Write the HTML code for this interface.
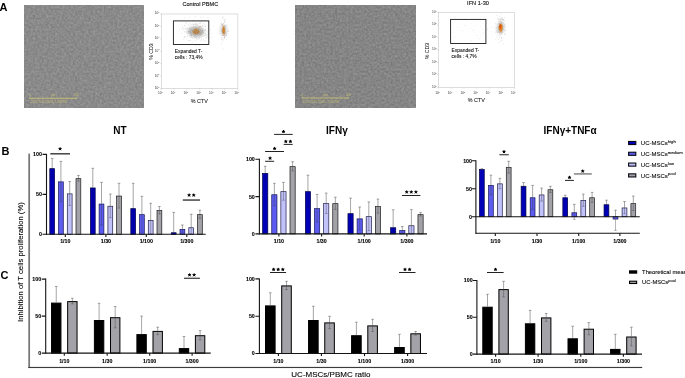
<!DOCTYPE html><html><head><meta charset="utf-8"><title>Figure</title><style>html,body{margin:0;padding:0;background:#fff;}body{width:685px;height:378px;overflow:hidden;position:relative;font-family:"Liberation Sans",sans-serif;}</style></head><body><svg width="685" height="378" viewBox="0 0 685 378" style="position:absolute;left:0;top:0;will-change:transform"><defs><filter id="nz1" x="0" y="0" width="1" height="1" color-interpolation-filters="sRGB"><feTurbulence type="fractalNoise" baseFrequency="0.45" numOctaves="3" seed="3"/><feColorMatrix type="matrix" values="0.17 0 0 0 0.4564  0.17 0 0 0 0.4564  0.17 0 0 0 0.4564  0 0 0 0 1"/></filter><filter id="nz2" x="0" y="0" width="1" height="1" color-interpolation-filters="sRGB"><feTurbulence type="fractalNoise" baseFrequency="0.45" numOctaves="3" seed="11"/><feColorMatrix type="matrix" values="0.17 0 0 0 0.4368  0.17 0 0 0 0.4368  0.17 0 0 0 0.4368  0 0 0 0 1"/></filter><filter id="b1" x="-50%" y="-50%" width="200%" height="200%"><feGaussianBlur stdDeviation="1.6"/></filter><filter id="b2" x="-50%" y="-50%" width="200%" height="200%"><feGaussianBlur stdDeviation="0.7"/></filter></defs><rect width="685" height="378" fill="#fff"/><rect x="24" y="5" width="119.8" height="102.6" fill="#8a8a8a" filter="url(#nz1)"/><line x1="29.3" y1="98.3" x2="76.9" y2="98.3" stroke="#c9c173" stroke-width="0.9"/><line x1="29.6" y1="97.1" x2="29.6" y2="98.3" stroke="#c9c173" stroke-width="0.6"/><line x1="76.60000000000001" y1="97.1" x2="76.60000000000001" y2="98.3" stroke="#c9c173" stroke-width="0.6"/><g font-family="Liberation Sans, sans-serif" font-size="3" fill="#c9c173" opacity="0.9"><text x="29.0" y="96.0">0</text><text x="51.1" y="96.0">µm</text><text x="73.9" y="96.0">100</text><text x="30.3" y="102.89999999999999" font-size="2.6" textLength="37" lengthAdjust="spacingAndGlyphs">23.01.2019 15h05, 1,000780&#8242;</text></g><rect x="295.5" y="5" width="120.1" height="102.5" fill="#858585" filter="url(#nz2)"/><line x1="301.7" y1="98.0" x2="348.9" y2="98.0" stroke="#c9c173" stroke-width="0.9"/><line x1="302.0" y1="96.8" x2="302.0" y2="98.0" stroke="#c9c173" stroke-width="0.6"/><line x1="348.59999999999997" y1="96.8" x2="348.59999999999997" y2="98.0" stroke="#c9c173" stroke-width="0.6"/><g font-family="Liberation Sans, sans-serif" font-size="3" fill="#c9c173" opacity="0.9"><text x="301.4" y="95.7">0</text><text x="323.29999999999995" y="95.7">µm</text><text x="345.9" y="95.7">100</text><text x="302.7" y="102.6" font-size="2.6" textLength="37" lengthAdjust="spacingAndGlyphs">23.01.2019 15h05, 1,000780&#8242;</text></g><text x="-0.4" y="11.2" font-family="Liberation Sans, sans-serif" font-size="11" font-weight="700" fill="#000">A</text><rect x="161.5" y="14" width="76.3" height="74.6" fill="#fff" stroke="#cfcfcf" stroke-width="0.7"/><g stroke="#bbb" stroke-width="0.5"><line x1="160.3" y1="88.6" x2="161.5" y2="88.6"/><line x1="161.5" y1="88.6" x2="161.5" y2="89.8"/><line x1="160.3" y1="76.2" x2="161.5" y2="76.2"/><line x1="174.2" y1="88.6" x2="174.2" y2="89.8"/><line x1="160.3" y1="63.7" x2="161.5" y2="63.7"/><line x1="186.9" y1="88.6" x2="186.9" y2="89.8"/><line x1="160.3" y1="51.3" x2="161.5" y2="51.3"/><line x1="199.7" y1="88.6" x2="199.7" y2="89.8"/><line x1="160.3" y1="38.9" x2="161.5" y2="38.9"/><line x1="212.4" y1="88.6" x2="212.4" y2="89.8"/><line x1="160.3" y1="26.4" x2="161.5" y2="26.4"/><line x1="225.1" y1="88.6" x2="225.1" y2="89.8"/><line x1="160.3" y1="14.0" x2="161.5" y2="14.0"/><line x1="237.8" y1="88.6" x2="237.8" y2="89.8"/></g><g font-family="Liberation Sans, sans-serif" font-size="3.2" fill="#333"><text x="159.4" y="88.9" text-anchor="end">10<tspan dy="-1.2" font-size="2">0</tspan></text><text x="162.7" y="94.0" text-anchor="end">10<tspan dy="-1.2" font-size="2">0</tspan></text><text x="159.4" y="76.5" text-anchor="end">10<tspan dy="-1.2" font-size="2">1</tspan></text><text x="175.4" y="94.0" text-anchor="end">10<tspan dy="-1.2" font-size="2">1</tspan></text><text x="159.4" y="64.0" text-anchor="end">10<tspan dy="-1.2" font-size="2">2</tspan></text><text x="188.1" y="94.0" text-anchor="end">10<tspan dy="-1.2" font-size="2">2</tspan></text><text x="159.4" y="51.6" text-anchor="end">10<tspan dy="-1.2" font-size="2">3</tspan></text><text x="200.8" y="94.0" text-anchor="end">10<tspan dy="-1.2" font-size="2">3</tspan></text><text x="159.4" y="39.2" text-anchor="end">10<tspan dy="-1.2" font-size="2">4</tspan></text><text x="213.6" y="94.0" text-anchor="end">10<tspan dy="-1.2" font-size="2">4</tspan></text><text x="159.4" y="26.7" text-anchor="end">10<tspan dy="-1.2" font-size="2">5</tspan></text><text x="226.3" y="94.0" text-anchor="end">10<tspan dy="-1.2" font-size="2">5</tspan></text><text x="159.4" y="14.3" text-anchor="end">10<tspan dy="-1.2" font-size="2">6</tspan></text><text x="239.0" y="94.0" text-anchor="end">10<tspan dy="-1.2" font-size="2">6</tspan></text></g><ellipse cx="196.0" cy="31.5" rx="8.5" ry="5.0" fill="#8f8f8f" opacity="0.62" filter="url(#b1)"/><ellipse cx="196.0" cy="31.5" rx="3.1" ry="2.8" fill="#b98848" opacity="0.82" filter="url(#b2)"/><g opacity="0.75"><rect x="194.4" y="34.3" width="0.5" height="0.5" fill="#8a8a8a"/><rect x="194.6" y="29.8" width="0.5" height="0.5" fill="#8a8a8a"/><rect x="190.2" y="30.3" width="0.5" height="0.5" fill="#8a8a8a"/><rect x="202.9" y="33.8" width="0.5" height="0.5" fill="#8a8a8a"/><rect x="202.5" y="32.9" width="0.5" height="0.5" fill="#8a8a8a"/><rect x="198.5" y="32.5" width="0.5" height="0.5" fill="#8a8a8a"/><rect x="185.6" y="36.2" width="0.5" height="0.5" fill="#8a8a8a"/><rect x="199.2" y="34.3" width="0.5" height="0.5" fill="#8a8a8a"/><rect x="185.4" y="21.9" width="0.5" height="0.5" fill="#8a8a8a"/><rect x="190.4" y="28.9" width="0.5" height="0.5" fill="#8a8a8a"/><rect x="197.9" y="31.2" width="0.5" height="0.5" fill="#8a8a8a"/><rect x="199.3" y="28.0" width="0.5" height="0.5" fill="#8a8a8a"/><rect x="197.9" y="33.7" width="0.5" height="0.5" fill="#8a8a8a"/><rect x="191.9" y="41.0" width="0.5" height="0.5" fill="#8a8a8a"/><rect x="199.5" y="38.1" width="0.5" height="0.5" fill="#8a8a8a"/><rect x="192.1" y="27.4" width="0.5" height="0.5" fill="#8a8a8a"/><rect x="193.9" y="30.9" width="0.5" height="0.5" fill="#8a8a8a"/><rect x="199.9" y="32.9" width="0.5" height="0.5" fill="#8a8a8a"/><rect x="193.2" y="26.2" width="0.5" height="0.5" fill="#8a8a8a"/><rect x="192.8" y="38.2" width="0.5" height="0.5" fill="#8a8a8a"/><rect x="191.0" y="32.9" width="0.5" height="0.5" fill="#8a8a8a"/><rect x="198.7" y="23.3" width="0.5" height="0.5" fill="#8a8a8a"/><rect x="196.3" y="38.7" width="0.5" height="0.5" fill="#8a8a8a"/><rect x="183.4" y="29.7" width="0.5" height="0.5" fill="#8a8a8a"/><rect x="195.3" y="27.0" width="0.5" height="0.5" fill="#8a8a8a"/><rect x="199.1" y="31.2" width="0.5" height="0.5" fill="#8a8a8a"/><rect x="186.9" y="36.1" width="0.5" height="0.5" fill="#8a8a8a"/><rect x="200.2" y="36.7" width="0.5" height="0.5" fill="#8a8a8a"/><rect x="205.0" y="33.5" width="0.5" height="0.5" fill="#8a8a8a"/><rect x="196.7" y="24.3" width="0.5" height="0.5" fill="#8a8a8a"/><rect x="199.8" y="28.1" width="0.5" height="0.5" fill="#8a8a8a"/><rect x="193.2" y="24.5" width="0.5" height="0.5" fill="#8a8a8a"/><rect x="190.0" y="28.6" width="0.5" height="0.5" fill="#8a8a8a"/><rect x="204.0" y="20.3" width="0.5" height="0.5" fill="#8a8a8a"/><rect x="186.9" y="32.8" width="0.5" height="0.5" fill="#8a8a8a"/><rect x="205.0" y="34.7" width="0.5" height="0.5" fill="#8a8a8a"/><rect x="184.1" y="17.6" width="0.5" height="0.5" fill="#8a8a8a"/><rect x="198.2" y="27.4" width="0.5" height="0.5" fill="#8a8a8a"/><rect x="189.0" y="36.9" width="0.5" height="0.5" fill="#8a8a8a"/><rect x="202.9" y="32.4" width="0.5" height="0.5" fill="#8a8a8a"/><rect x="197.5" y="33.9" width="0.5" height="0.5" fill="#8a8a8a"/><rect x="205.9" y="34.9" width="0.5" height="0.5" fill="#8a8a8a"/><rect x="199.2" y="34.5" width="0.5" height="0.5" fill="#8a8a8a"/><rect x="186.2" y="38.6" width="0.5" height="0.5" fill="#8a8a8a"/><rect x="202.0" y="34.4" width="0.5" height="0.5" fill="#8a8a8a"/><rect x="183.7" y="28.0" width="0.5" height="0.5" fill="#8a8a8a"/><rect x="201.3" y="21.5" width="0.5" height="0.5" fill="#8a8a8a"/><rect x="194.9" y="37.1" width="0.5" height="0.5" fill="#8a8a8a"/><rect x="187.8" y="40.4" width="0.5" height="0.5" fill="#8a8a8a"/><rect x="199.4" y="30.7" width="0.5" height="0.5" fill="#8a8a8a"/><rect x="198.0" y="35.1" width="0.5" height="0.5" fill="#8a8a8a"/><rect x="196.8" y="37.8" width="0.5" height="0.5" fill="#8a8a8a"/><rect x="191.9" y="29.2" width="0.5" height="0.5" fill="#8a8a8a"/><rect x="202.5" y="31.6" width="0.5" height="0.5" fill="#8a8a8a"/><rect x="190.5" y="36.7" width="0.5" height="0.5" fill="#8a8a8a"/><rect x="205.1" y="29.0" width="0.5" height="0.5" fill="#8a8a8a"/><rect x="187.4" y="30.8" width="0.5" height="0.5" fill="#8a8a8a"/><rect x="195.1" y="29.9" width="0.5" height="0.5" fill="#8a8a8a"/><rect x="204.8" y="25.8" width="0.5" height="0.5" fill="#8a8a8a"/><rect x="203.9" y="24.5" width="0.5" height="0.5" fill="#8a8a8a"/><rect x="191.1" y="35.0" width="0.5" height="0.5" fill="#8a8a8a"/><rect x="203.0" y="36.2" width="0.5" height="0.5" fill="#8a8a8a"/><rect x="198.2" y="32.3" width="0.5" height="0.5" fill="#8a8a8a"/><rect x="197.0" y="34.7" width="0.5" height="0.5" fill="#8a8a8a"/><rect x="194.9" y="33.0" width="0.5" height="0.5" fill="#8a8a8a"/><rect x="199.6" y="31.5" width="0.5" height="0.5" fill="#8a8a8a"/><rect x="200.8" y="34.6" width="0.5" height="0.5" fill="#8a8a8a"/><rect x="208.5" y="33.3" width="0.5" height="0.5" fill="#8a8a8a"/><rect x="193.3" y="29.4" width="0.5" height="0.5" fill="#8a8a8a"/><rect x="195.9" y="36.6" width="0.5" height="0.5" fill="#8a8a8a"/><rect x="193.9" y="33.6" width="0.5" height="0.5" fill="#8a8a8a"/><rect x="207.5" y="17.3" width="0.5" height="0.5" fill="#8a8a8a"/><rect x="189.0" y="32.8" width="0.5" height="0.5" fill="#8a8a8a"/><rect x="198.5" y="32.8" width="0.5" height="0.5" fill="#8a8a8a"/><rect x="193.3" y="35.1" width="0.5" height="0.5" fill="#8a8a8a"/><rect x="197.8" y="28.6" width="0.5" height="0.5" fill="#8a8a8a"/><rect x="211.2" y="33.5" width="0.5" height="0.5" fill="#8a8a8a"/><rect x="192.5" y="31.0" width="0.5" height="0.5" fill="#8a8a8a"/><rect x="194.6" y="31.2" width="0.5" height="0.5" fill="#8a8a8a"/><rect x="179.0" y="28.8" width="0.5" height="0.5" fill="#8a8a8a"/><rect x="202.3" y="25.0" width="0.5" height="0.5" fill="#8a8a8a"/><rect x="195.6" y="36.8" width="0.5" height="0.5" fill="#8a8a8a"/><rect x="201.3" y="39.7" width="0.5" height="0.5" fill="#8a8a8a"/><rect x="185.4" y="29.5" width="0.5" height="0.5" fill="#8a8a8a"/><rect x="193.9" y="34.9" width="0.5" height="0.5" fill="#8a8a8a"/><rect x="202.8" y="16.7" width="0.5" height="0.5" fill="#8a8a8a"/><rect x="202.8" y="23.5" width="0.5" height="0.5" fill="#8a8a8a"/><rect x="200.3" y="23.3" width="0.5" height="0.5" fill="#8a8a8a"/><rect x="197.1" y="38.1" width="0.5" height="0.5" fill="#8a8a8a"/><rect x="195.1" y="32.6" width="0.5" height="0.5" fill="#8a8a8a"/><rect x="201.0" y="32.3" width="0.5" height="0.5" fill="#8a8a8a"/><rect x="195.4" y="40.0" width="0.5" height="0.5" fill="#8a8a8a"/><rect x="202.5" y="29.9" width="0.5" height="0.5" fill="#8a8a8a"/><rect x="213.1" y="25.2" width="0.5" height="0.5" fill="#8a8a8a"/><rect x="201.7" y="30.0" width="0.5" height="0.5" fill="#8a8a8a"/><rect x="196.8" y="35.4" width="0.5" height="0.5" fill="#8a8a8a"/><rect x="197.4" y="35.0" width="0.5" height="0.5" fill="#8a8a8a"/><rect x="186.5" y="23.2" width="0.5" height="0.5" fill="#8a8a8a"/><rect x="199.8" y="26.2" width="0.5" height="0.5" fill="#8a8a8a"/><rect x="189.6" y="23.4" width="0.5" height="0.5" fill="#8a8a8a"/><rect x="203.9" y="35.6" width="0.5" height="0.5" fill="#8a8a8a"/><rect x="205.2" y="26.3" width="0.5" height="0.5" fill="#8a8a8a"/><rect x="196.0" y="25.2" width="0.5" height="0.5" fill="#8a8a8a"/><rect x="200.8" y="40.3" width="0.5" height="0.5" fill="#8a8a8a"/><rect x="190.4" y="40.1" width="0.5" height="0.5" fill="#8a8a8a"/><rect x="202.2" y="30.5" width="0.5" height="0.5" fill="#8a8a8a"/><rect x="183.7" y="39.3" width="0.5" height="0.5" fill="#8a8a8a"/><rect x="195.4" y="28.2" width="0.5" height="0.5" fill="#8a8a8a"/><rect x="198.5" y="33.8" width="0.5" height="0.5" fill="#8a8a8a"/><rect x="205.3" y="25.9" width="0.5" height="0.5" fill="#8a8a8a"/><rect x="203.1" y="39.7" width="0.5" height="0.5" fill="#8a8a8a"/><rect x="205.1" y="30.5" width="0.5" height="0.5" fill="#8a8a8a"/><rect x="191.4" y="37.1" width="0.5" height="0.5" fill="#8a8a8a"/><rect x="196.7" y="32.2" width="0.5" height="0.5" fill="#8a8a8a"/><rect x="204.9" y="30.0" width="0.5" height="0.5" fill="#8a8a8a"/><rect x="181.7" y="29.4" width="0.5" height="0.5" fill="#8a8a8a"/><rect x="184.4" y="36.0" width="0.5" height="0.5" fill="#8a8a8a"/><rect x="198.0" y="28.1" width="0.5" height="0.5" fill="#8a8a8a"/><rect x="195.9" y="36.1" width="0.5" height="0.5" fill="#8a8a8a"/><rect x="196.5" y="38.8" width="0.5" height="0.5" fill="#8a8a8a"/><rect x="195.6" y="37.2" width="0.5" height="0.5" fill="#8a8a8a"/><rect x="205.3" y="40.4" width="0.5" height="0.5" fill="#8a8a8a"/><rect x="191.8" y="36.4" width="0.5" height="0.5" fill="#8a8a8a"/><rect x="184.3" y="25.5" width="0.5" height="0.5" fill="#8a8a8a"/><rect x="183.8" y="37.4" width="0.5" height="0.5" fill="#8a8a8a"/><rect x="188.3" y="31.4" width="0.5" height="0.5" fill="#8a8a8a"/><rect x="194.8" y="31.3" width="0.5" height="0.5" fill="#8a8a8a"/><rect x="192.3" y="32.8" width="0.5" height="0.5" fill="#8a8a8a"/><rect x="207.2" y="31.7" width="0.5" height="0.5" fill="#8a8a8a"/><rect x="199.3" y="37.0" width="0.5" height="0.5" fill="#8a8a8a"/><rect x="194.8" y="24.5" width="0.5" height="0.5" fill="#8a8a8a"/><rect x="192.5" y="37.4" width="0.5" height="0.5" fill="#8a8a8a"/><rect x="185.7" y="28.2" width="0.5" height="0.5" fill="#8a8a8a"/><rect x="202.3" y="35.9" width="0.5" height="0.5" fill="#8a8a8a"/><rect x="196.0" y="35.9" width="0.5" height="0.5" fill="#8a8a8a"/><rect x="197.0" y="25.0" width="0.5" height="0.5" fill="#8a8a8a"/><rect x="186.2" y="28.0" width="0.5" height="0.5" fill="#8a8a8a"/><rect x="201.8" y="28.4" width="0.5" height="0.5" fill="#8a8a8a"/><rect x="190.4" y="27.2" width="0.5" height="0.5" fill="#8a8a8a"/><rect x="186.4" y="30.9" width="0.5" height="0.5" fill="#8a8a8a"/><rect x="188.6" y="33.5" width="0.5" height="0.5" fill="#8a8a8a"/><rect x="181.3" y="33.3" width="0.5" height="0.5" fill="#8a8a8a"/><rect x="192.0" y="20.8" width="0.5" height="0.5" fill="#8a8a8a"/><rect x="200.5" y="30.0" width="0.5" height="0.5" fill="#8a8a8a"/><rect x="182.1" y="26.7" width="0.5" height="0.5" fill="#8a8a8a"/><rect x="197.8" y="29.0" width="0.5" height="0.5" fill="#8a8a8a"/><rect x="200.9" y="35.6" width="0.5" height="0.5" fill="#8a8a8a"/><rect x="200.2" y="33.3" width="0.5" height="0.5" fill="#8a8a8a"/><rect x="204.3" y="35.1" width="0.5" height="0.5" fill="#8a8a8a"/><rect x="198.8" y="20.0" width="0.5" height="0.5" fill="#8a8a8a"/><rect x="201.6" y="38.7" width="0.5" height="0.5" fill="#8a8a8a"/><rect x="194.1" y="28.9" width="0.5" height="0.5" fill="#8a8a8a"/><rect x="208.1" y="21.8" width="0.5" height="0.5" fill="#8a8a8a"/><rect x="198.9" y="44.9" width="0.5" height="0.5" fill="#8a8a8a"/><rect x="190.2" y="35.3" width="0.5" height="0.5" fill="#8a8a8a"/><rect x="207.8" y="30.8" width="0.5" height="0.5" fill="#8a8a8a"/><rect x="199.5" y="36.5" width="0.5" height="0.5" fill="#8a8a8a"/><rect x="190.3" y="31.0" width="0.5" height="0.5" fill="#8a8a8a"/><rect x="197.8" y="36.1" width="0.5" height="0.5" fill="#8a8a8a"/><rect x="195.8" y="30.4" width="0.5" height="0.5" fill="#8a8a8a"/><rect x="189.7" y="29.5" width="0.5" height="0.5" fill="#8a8a8a"/><rect x="201.6" y="32.1" width="0.5" height="0.5" fill="#8a8a8a"/><rect x="190.7" y="26.9" width="0.5" height="0.5" fill="#8a8a8a"/><rect x="212.6" y="37.8" width="0.5" height="0.5" fill="#8a8a8a"/><rect x="200.0" y="17.2" width="0.5" height="0.5" fill="#8a8a8a"/><rect x="199.9" y="34.2" width="0.5" height="0.5" fill="#8a8a8a"/><rect x="206.5" y="33.9" width="0.5" height="0.5" fill="#8a8a8a"/><rect x="195.6" y="34.4" width="0.5" height="0.5" fill="#8a8a8a"/><rect x="183.9" y="37.2" width="0.5" height="0.5" fill="#8a8a8a"/><rect x="198.0" y="27.6" width="0.5" height="0.5" fill="#8a8a8a"/><rect x="204.3" y="41.5" width="0.5" height="0.5" fill="#8a8a8a"/><rect x="187.2" y="27.8" width="0.5" height="0.5" fill="#8a8a8a"/><rect x="197.8" y="32.5" width="0.5" height="0.5" fill="#8a8a8a"/><rect x="193.5" y="26.1" width="0.5" height="0.5" fill="#8a8a8a"/><rect x="209.2" y="37.2" width="0.5" height="0.5" fill="#8a8a8a"/><rect x="188.5" y="24.1" width="0.5" height="0.5" fill="#8a8a8a"/><rect x="206.6" y="37.0" width="0.5" height="0.5" fill="#8a8a8a"/><rect x="207.4" y="36.0" width="0.5" height="0.5" fill="#8a8a8a"/><rect x="190.6" y="32.9" width="0.5" height="0.5" fill="#8a8a8a"/><rect x="182.5" y="27.4" width="0.5" height="0.5" fill="#8a8a8a"/><rect x="195.6" y="34.4" width="0.5" height="0.5" fill="#8a8a8a"/><rect x="191.5" y="30.8" width="0.5" height="0.5" fill="#8a8a8a"/><rect x="198.9" y="33.6" width="0.5" height="0.5" fill="#8a8a8a"/><rect x="200.0" y="32.7" width="0.5" height="0.5" fill="#8a8a8a"/><rect x="194.0" y="35.9" width="0.5" height="0.5" fill="#8a8a8a"/><rect x="196.3" y="26.9" width="0.5" height="0.5" fill="#8a8a8a"/><rect x="192.1" y="31.5" width="0.5" height="0.5" fill="#8a8a8a"/><rect x="195.3" y="32.4" width="0.5" height="0.5" fill="#8a8a8a"/><rect x="196.0" y="32.5" width="0.5" height="0.5" fill="#8a8a8a"/><rect x="195.2" y="24.6" width="0.5" height="0.5" fill="#8a8a8a"/><rect x="198.6" y="37.3" width="0.5" height="0.5" fill="#8a8a8a"/><rect x="198.7" y="30.5" width="0.5" height="0.5" fill="#8a8a8a"/><rect x="198.8" y="26.2" width="0.5" height="0.5" fill="#8a8a8a"/><rect x="184.2" y="31.8" width="0.5" height="0.5" fill="#8a8a8a"/><rect x="190.2" y="35.6" width="0.5" height="0.5" fill="#8a8a8a"/><rect x="189.2" y="17.0" width="0.5" height="0.5" fill="#8a8a8a"/><rect x="189.5" y="40.2" width="0.5" height="0.5" fill="#8a8a8a"/><rect x="193.6" y="23.9" width="0.5" height="0.5" fill="#8a8a8a"/><rect x="191.2" y="34.4" width="0.5" height="0.5" fill="#8a8a8a"/><rect x="199.1" y="32.5" width="0.5" height="0.5" fill="#8a8a8a"/><rect x="205.3" y="35.4" width="0.5" height="0.5" fill="#8a8a8a"/><rect x="195.9" y="34.8" width="0.5" height="0.5" fill="#8a8a8a"/><rect x="206.3" y="36.9" width="0.5" height="0.5" fill="#8a8a8a"/><rect x="202.4" y="25.5" width="0.5" height="0.5" fill="#8a8a8a"/><rect x="195.1" y="35.5" width="0.5" height="0.5" fill="#8a8a8a"/><rect x="194.2" y="37.4" width="0.5" height="0.5" fill="#8a8a8a"/><rect x="199.7" y="36.5" width="0.5" height="0.5" fill="#8a8a8a"/><rect x="194.7" y="45.6" width="0.5" height="0.5" fill="#8a8a8a"/><rect x="203.7" y="30.3" width="0.5" height="0.5" fill="#8a8a8a"/><rect x="196.6" y="45.8" width="0.5" height="0.5" fill="#8a8a8a"/><rect x="193.9" y="36.3" width="0.5" height="0.5" fill="#8a8a8a"/><rect x="202.1" y="31.5" width="0.5" height="0.5" fill="#8a8a8a"/><rect x="188.7" y="32.5" width="0.5" height="0.5" fill="#8a8a8a"/><rect x="198.2" y="37.7" width="0.5" height="0.5" fill="#8a8a8a"/><rect x="200.9" y="31.6" width="0.5" height="0.5" fill="#8a8a8a"/><rect x="201.3" y="34.5" width="0.5" height="0.5" fill="#8a8a8a"/><rect x="197.3" y="31.8" width="0.5" height="0.5" fill="#8a8a8a"/><rect x="194.5" y="35.3" width="0.5" height="0.5" fill="#8a8a8a"/><rect x="189.4" y="28.0" width="0.5" height="0.5" fill="#8a8a8a"/><rect x="196.0" y="23.4" width="0.5" height="0.5" fill="#8a8a8a"/><rect x="193.3" y="20.4" width="0.5" height="0.5" fill="#8a8a8a"/><rect x="191.7" y="34.6" width="0.5" height="0.5" fill="#8a8a8a"/><rect x="199.5" y="31.2" width="0.5" height="0.5" fill="#8a8a8a"/><rect x="194.6" y="23.7" width="0.5" height="0.5" fill="#8a8a8a"/><rect x="207.4" y="34.3" width="0.5" height="0.5" fill="#8a8a8a"/><rect x="202.8" y="26.6" width="0.5" height="0.5" fill="#8a8a8a"/><rect x="194.8" y="21.5" width="0.5" height="0.5" fill="#8a8a8a"/><rect x="200.9" y="36.7" width="0.5" height="0.5" fill="#8a8a8a"/><rect x="184.2" y="31.2" width="0.5" height="0.5" fill="#8a8a8a"/><rect x="199.9" y="21.8" width="0.5" height="0.5" fill="#8a8a8a"/><rect x="184.6" y="25.6" width="0.5" height="0.5" fill="#8a8a8a"/><rect x="192.1" y="23.8" width="0.5" height="0.5" fill="#8a8a8a"/><rect x="196.2" y="32.9" width="0.5" height="0.5" fill="#8a8a8a"/><rect x="200.0" y="35.4" width="0.5" height="0.5" fill="#8a8a8a"/><rect x="205.4" y="37.9" width="0.5" height="0.5" fill="#8a8a8a"/><rect x="187.8" y="28.7" width="0.5" height="0.5" fill="#8a8a8a"/><rect x="189.4" y="25.6" width="0.5" height="0.5" fill="#8a8a8a"/><rect x="195.5" y="31.5" width="0.5" height="0.5" fill="#8a8a8a"/><rect x="199.1" y="22.7" width="0.5" height="0.5" fill="#8a8a8a"/><rect x="188.3" y="31.4" width="0.5" height="0.5" fill="#8a8a8a"/><rect x="194.8" y="29.8" width="0.5" height="0.5" fill="#8a8a8a"/><rect x="195.6" y="27.3" width="0.5" height="0.5" fill="#8a8a8a"/><rect x="200.4" y="33.5" width="0.5" height="0.5" fill="#8a8a8a"/><rect x="195.5" y="27.8" width="0.5" height="0.5" fill="#8a8a8a"/><rect x="194.9" y="16.5" width="0.5" height="0.5" fill="#8a8a8a"/><rect x="189.9" y="31.7" width="0.5" height="0.5" fill="#8a8a8a"/><rect x="186.6" y="32.6" width="0.5" height="0.5" fill="#8a8a8a"/><rect x="196.9" y="23.9" width="0.5" height="0.5" fill="#8a8a8a"/><rect x="194.4" y="29.8" width="0.5" height="0.5" fill="#8a8a8a"/><rect x="198.9" y="34.9" width="0.5" height="0.5" fill="#8a8a8a"/><rect x="195.8" y="26.8" width="0.5" height="0.5" fill="#8a8a8a"/><rect x="195.1" y="31.1" width="0.5" height="0.5" fill="#8a8a8a"/><rect x="200.6" y="33.1" width="0.5" height="0.5" fill="#8a8a8a"/><rect x="191.5" y="24.0" width="0.5" height="0.5" fill="#8a8a8a"/><rect x="193.7" y="27.4" width="0.5" height="0.5" fill="#8a8a8a"/><rect x="189.1" y="30.9" width="0.5" height="0.5" fill="#8a8a8a"/><rect x="192.9" y="32.1" width="0.5" height="0.5" fill="#8a8a8a"/><rect x="199.3" y="29.2" width="0.5" height="0.5" fill="#8a8a8a"/><rect x="210.5" y="29.7" width="0.5" height="0.5" fill="#8a8a8a"/><rect x="202.9" y="32.2" width="0.5" height="0.5" fill="#8a8a8a"/><rect x="198.9" y="26.0" width="0.6" height="0.6" fill="#a07040"/><rect x="198.6" y="31.4" width="0.6" height="0.6" fill="#c87f28"/><rect x="197.0" y="32.0" width="0.6" height="0.6" fill="#8a6a4a"/><rect x="195.8" y="33.7" width="0.6" height="0.6" fill="#8a6a4a"/><rect x="197.3" y="29.0" width="0.6" height="0.6" fill="#d98a1a"/><rect x="195.5" y="29.9" width="0.6" height="0.6" fill="#a07040"/><rect x="194.8" y="32.3" width="0.6" height="0.6" fill="#a07040"/><rect x="194.9" y="29.4" width="0.6" height="0.6" fill="#c87f28"/><rect x="193.8" y="32.6" width="0.6" height="0.6" fill="#d98a1a"/><rect x="196.1" y="31.4" width="0.6" height="0.6" fill="#e09a30"/><rect x="196.7" y="30.5" width="0.6" height="0.6" fill="#c87f28"/><rect x="194.7" y="26.7" width="0.6" height="0.6" fill="#e09a30"/><rect x="196.0" y="32.3" width="0.6" height="0.6" fill="#a07040"/><rect x="199.5" y="31.5" width="0.6" height="0.6" fill="#e09a30"/><rect x="199.9" y="29.8" width="0.6" height="0.6" fill="#d98a1a"/><rect x="195.8" y="32.2" width="0.6" height="0.6" fill="#e09a30"/><rect x="195.0" y="30.5" width="0.6" height="0.6" fill="#e09a30"/><rect x="193.9" y="32.3" width="0.6" height="0.6" fill="#e09a30"/><rect x="196.6" y="29.1" width="0.6" height="0.6" fill="#d98a1a"/><rect x="197.4" y="28.5" width="0.6" height="0.6" fill="#8a6a4a"/><rect x="192.1" y="30.4" width="0.6" height="0.6" fill="#d98a1a"/><rect x="198.4" y="30.5" width="0.6" height="0.6" fill="#8a6a4a"/><rect x="196.1" y="28.2" width="0.6" height="0.6" fill="#e09a30"/><rect x="190.3" y="32.0" width="0.6" height="0.6" fill="#8a6a4a"/><rect x="198.0" y="33.4" width="0.6" height="0.6" fill="#e09a30"/><rect x="195.6" y="33.2" width="0.6" height="0.6" fill="#e09a30"/><rect x="194.4" y="32.4" width="0.6" height="0.6" fill="#a07040"/><rect x="193.6" y="30.7" width="0.6" height="0.6" fill="#c87f28"/><rect x="195.4" y="30.8" width="0.6" height="0.6" fill="#8a6a4a"/><rect x="198.5" y="30.0" width="0.6" height="0.6" fill="#c87f28"/><rect x="193.8" y="32.1" width="0.6" height="0.6" fill="#a07040"/><rect x="193.1" y="32.8" width="0.6" height="0.6" fill="#c87f28"/><rect x="198.0" y="32.6" width="0.6" height="0.6" fill="#d98a1a"/><rect x="194.9" y="33.5" width="0.6" height="0.6" fill="#8a6a4a"/><rect x="196.2" y="31.9" width="0.6" height="0.6" fill="#a07040"/><rect x="192.8" y="34.1" width="0.6" height="0.6" fill="#c87f28"/><rect x="194.3" y="33.0" width="0.6" height="0.6" fill="#d98a1a"/><rect x="192.6" y="31.5" width="0.6" height="0.6" fill="#e09a30"/><rect x="198.2" y="33.4" width="0.6" height="0.6" fill="#c87f28"/><rect x="200.6" y="34.2" width="0.6" height="0.6" fill="#a07040"/><rect x="193.7" y="33.0" width="0.6" height="0.6" fill="#e09a30"/><rect x="199.1" y="27.7" width="0.6" height="0.6" fill="#d98a1a"/><rect x="197.9" y="33.2" width="0.6" height="0.6" fill="#a07040"/><rect x="199.0" y="31.0" width="0.6" height="0.6" fill="#d98a1a"/><rect x="191.4" y="34.8" width="0.6" height="0.6" fill="#8a6a4a"/><rect x="200.3" y="26.6" width="0.6" height="0.6" fill="#c87f28"/><rect x="196.4" y="29.9" width="0.6" height="0.6" fill="#c87f28"/><rect x="192.1" y="31.0" width="0.6" height="0.6" fill="#a07040"/><rect x="199.9" y="33.5" width="0.6" height="0.6" fill="#d98a1a"/><rect x="196.4" y="29.9" width="0.6" height="0.6" fill="#d98a1a"/><rect x="194.6" y="29.9" width="0.6" height="0.6" fill="#c87f28"/><rect x="193.8" y="29.5" width="0.6" height="0.6" fill="#a07040"/><rect x="195.6" y="30.4" width="0.6" height="0.6" fill="#d98a1a"/><rect x="194.1" y="36.7" width="0.6" height="0.6" fill="#c87f28"/><rect x="194.6" y="32.6" width="0.6" height="0.6" fill="#8a6a4a"/><rect x="199.2" y="31.5" width="0.6" height="0.6" fill="#a07040"/><rect x="195.6" y="33.5" width="0.6" height="0.6" fill="#c87f28"/><rect x="194.1" y="31.8" width="0.6" height="0.6" fill="#c87f28"/><rect x="198.6" y="31.9" width="0.6" height="0.6" fill="#e09a30"/><rect x="197.6" y="32.0" width="0.6" height="0.6" fill="#a07040"/><rect x="197.6" y="32.3" width="0.6" height="0.6" fill="#a07040"/><rect x="197.7" y="30.8" width="0.6" height="0.6" fill="#d98a1a"/><rect x="194.6" y="28.0" width="0.6" height="0.6" fill="#e09a30"/><rect x="195.3" y="30.1" width="0.6" height="0.6" fill="#e09a30"/><rect x="195.8" y="28.8" width="0.6" height="0.6" fill="#c87f28"/><rect x="194.3" y="31.5" width="0.6" height="0.6" fill="#c87f28"/><rect x="196.2" y="33.1" width="0.6" height="0.6" fill="#e09a30"/><rect x="198.8" y="33.5" width="0.6" height="0.6" fill="#8a6a4a"/><rect x="196.7" y="33.0" width="0.6" height="0.6" fill="#a07040"/><rect x="196.7" y="31.1" width="0.6" height="0.6" fill="#8a6a4a"/><rect x="197.6" y="33.3" width="0.6" height="0.6" fill="#c87f28"/><rect x="199.5" y="32.0" width="0.6" height="0.6" fill="#a07040"/><rect x="196.9" y="31.8" width="0.6" height="0.6" fill="#a07040"/><rect x="192.1" y="32.6" width="0.6" height="0.6" fill="#e09a30"/><rect x="195.0" y="23.6" width="0.6" height="0.6" fill="#c87f28"/><rect x="195.2" y="32.8" width="0.6" height="0.6" fill="#8a6a4a"/><rect x="196.0" y="30.9" width="0.6" height="0.6" fill="#a07040"/><rect x="200.0" y="25.9" width="0.6" height="0.6" fill="#a07040"/><rect x="196.1" y="31.7" width="0.6" height="0.6" fill="#e09a30"/><rect x="198.4" y="32.7" width="0.6" height="0.6" fill="#d98a1a"/></g><ellipse cx="223.6" cy="30.3" rx="3.0" ry="5.2" fill="#8f8f8f" opacity="0.5" filter="url(#b1)"/><ellipse cx="223.6" cy="30.3" rx="1.2" ry="3.4" fill="#d8821c" opacity="0.95" filter="url(#b2)"/><g opacity="0.75"><rect x="220.6" y="26.4" width="0.5" height="0.5" fill="#8a8a8a"/><rect x="221.2" y="37.6" width="0.5" height="0.5" fill="#8a8a8a"/><rect x="222.4" y="40.8" width="0.5" height="0.5" fill="#8a8a8a"/><rect x="226.2" y="35.4" width="0.5" height="0.5" fill="#8a8a8a"/><rect x="224.4" y="37.6" width="0.5" height="0.5" fill="#8a8a8a"/><rect x="222.0" y="32.1" width="0.5" height="0.5" fill="#8a8a8a"/><rect x="223.4" y="23.2" width="0.5" height="0.5" fill="#8a8a8a"/><rect x="222.6" y="26.8" width="0.5" height="0.5" fill="#8a8a8a"/><rect x="222.2" y="25.8" width="0.5" height="0.5" fill="#8a8a8a"/><rect x="222.1" y="35.2" width="0.5" height="0.5" fill="#8a8a8a"/><rect x="223.8" y="28.2" width="0.5" height="0.5" fill="#8a8a8a"/><rect x="223.8" y="32.4" width="0.5" height="0.5" fill="#8a8a8a"/><rect x="222.2" y="26.6" width="0.5" height="0.5" fill="#8a8a8a"/><rect x="221.2" y="43.6" width="0.5" height="0.5" fill="#8a8a8a"/><rect x="226.7" y="33.1" width="0.5" height="0.5" fill="#8a8a8a"/><rect x="222.0" y="17.1" width="0.5" height="0.5" fill="#8a8a8a"/><rect x="222.7" y="39.8" width="0.5" height="0.5" fill="#8a8a8a"/><rect x="220.7" y="23.9" width="0.5" height="0.5" fill="#8a8a8a"/><rect x="224.3" y="29.5" width="0.5" height="0.5" fill="#8a8a8a"/><rect x="224.0" y="27.7" width="0.5" height="0.5" fill="#8a8a8a"/><rect x="223.1" y="23.5" width="0.5" height="0.5" fill="#8a8a8a"/><rect x="224.2" y="19.4" width="0.5" height="0.5" fill="#8a8a8a"/><rect x="226.6" y="24.4" width="0.5" height="0.5" fill="#8a8a8a"/><rect x="225.1" y="35.7" width="0.5" height="0.5" fill="#8a8a8a"/><rect x="228.0" y="31.1" width="0.5" height="0.5" fill="#8a8a8a"/><rect x="222.6" y="39.3" width="0.5" height="0.5" fill="#8a8a8a"/><rect x="224.4" y="34.0" width="0.5" height="0.5" fill="#8a8a8a"/><rect x="225.0" y="25.0" width="0.5" height="0.5" fill="#8a8a8a"/><rect x="224.1" y="22.1" width="0.5" height="0.5" fill="#8a8a8a"/><rect x="221.7" y="29.8" width="0.5" height="0.5" fill="#8a8a8a"/><rect x="224.7" y="35.7" width="0.5" height="0.5" fill="#8a8a8a"/><rect x="222.3" y="24.5" width="0.5" height="0.5" fill="#8a8a8a"/><rect x="222.5" y="29.3" width="0.5" height="0.5" fill="#8a8a8a"/><rect x="222.8" y="31.6" width="0.5" height="0.5" fill="#8a8a8a"/><rect x="226.0" y="34.1" width="0.5" height="0.5" fill="#8a8a8a"/><rect x="224.1" y="36.6" width="0.5" height="0.5" fill="#8a8a8a"/><rect x="228.7" y="29.1" width="0.5" height="0.5" fill="#8a8a8a"/><rect x="224.1" y="33.3" width="0.5" height="0.5" fill="#8a8a8a"/><rect x="219.7" y="33.5" width="0.5" height="0.5" fill="#8a8a8a"/><rect x="223.8" y="38.0" width="0.5" height="0.5" fill="#8a8a8a"/><rect x="224.1" y="19.9" width="0.5" height="0.5" fill="#8a8a8a"/><rect x="223.9" y="25.2" width="0.5" height="0.5" fill="#8a8a8a"/><rect x="223.3" y="35.1" width="0.5" height="0.5" fill="#8a8a8a"/><rect x="223.6" y="35.1" width="0.5" height="0.5" fill="#8a8a8a"/><rect x="222.5" y="31.8" width="0.5" height="0.5" fill="#8a8a8a"/><rect x="223.7" y="35.4" width="0.5" height="0.5" fill="#8a8a8a"/><rect x="224.6" y="28.1" width="0.5" height="0.5" fill="#8a8a8a"/><rect x="224.9" y="32.2" width="0.5" height="0.5" fill="#8a8a8a"/><rect x="223.7" y="37.9" width="0.5" height="0.5" fill="#8a8a8a"/><rect x="223.1" y="28.0" width="0.5" height="0.5" fill="#8a8a8a"/><rect x="223.1" y="30.7" width="0.5" height="0.5" fill="#8a8a8a"/><rect x="227.6" y="30.7" width="0.5" height="0.5" fill="#8a8a8a"/><rect x="223.8" y="37.1" width="0.5" height="0.5" fill="#8a8a8a"/><rect x="220.8" y="39.4" width="0.5" height="0.5" fill="#8a8a8a"/><rect x="223.7" y="32.3" width="0.5" height="0.5" fill="#8a8a8a"/><rect x="220.7" y="23.4" width="0.5" height="0.5" fill="#8a8a8a"/><rect x="223.9" y="32.6" width="0.5" height="0.5" fill="#8a8a8a"/><rect x="222.4" y="30.0" width="0.5" height="0.5" fill="#8a8a8a"/><rect x="221.0" y="23.8" width="0.5" height="0.5" fill="#8a8a8a"/><rect x="223.5" y="29.7" width="0.5" height="0.5" fill="#8a8a8a"/><rect x="221.6" y="22.8" width="0.5" height="0.5" fill="#8a8a8a"/><rect x="223.3" y="31.7" width="0.5" height="0.5" fill="#8a8a8a"/><rect x="223.3" y="31.9" width="0.5" height="0.5" fill="#8a8a8a"/><rect x="224.1" y="30.3" width="0.5" height="0.5" fill="#8a8a8a"/><rect x="223.1" y="16.6" width="0.5" height="0.5" fill="#8a8a8a"/><rect x="225.0" y="19.7" width="0.5" height="0.5" fill="#8a8a8a"/><rect x="222.0" y="33.6" width="0.5" height="0.5" fill="#8a8a8a"/><rect x="223.0" y="28.6" width="0.5" height="0.5" fill="#8a8a8a"/><rect x="225.8" y="31.7" width="0.5" height="0.5" fill="#8a8a8a"/><rect x="221.6" y="31.0" width="0.5" height="0.5" fill="#8a8a8a"/><rect x="224.4" y="21.5" width="0.5" height="0.5" fill="#8a8a8a"/><rect x="224.9" y="36.7" width="0.5" height="0.5" fill="#8a8a8a"/><rect x="222.5" y="25.1" width="0.5" height="0.5" fill="#8a8a8a"/><rect x="222.8" y="48.7" width="0.5" height="0.5" fill="#8a8a8a"/><rect x="222.6" y="24.7" width="0.5" height="0.5" fill="#8a8a8a"/><rect x="226.6" y="33.6" width="0.5" height="0.5" fill="#8a8a8a"/><rect x="225.1" y="26.0" width="0.5" height="0.5" fill="#8a8a8a"/><rect x="226.9" y="31.5" width="0.5" height="0.5" fill="#8a8a8a"/><rect x="224.5" y="21.8" width="0.5" height="0.5" fill="#8a8a8a"/><rect x="222.1" y="34.3" width="0.5" height="0.5" fill="#8a8a8a"/><rect x="225.5" y="27.9" width="0.5" height="0.5" fill="#8a8a8a"/><rect x="224.1" y="32.9" width="0.5" height="0.5" fill="#8a8a8a"/><rect x="225.7" y="34.7" width="0.5" height="0.5" fill="#8a8a8a"/><rect x="221.4" y="38.4" width="0.5" height="0.5" fill="#8a8a8a"/><rect x="224.0" y="31.8" width="0.5" height="0.5" fill="#8a8a8a"/><rect x="225.8" y="39.1" width="0.5" height="0.5" fill="#8a8a8a"/><rect x="221.6" y="35.2" width="0.5" height="0.5" fill="#8a8a8a"/><rect x="226.4" y="25.8" width="0.5" height="0.5" fill="#8a8a8a"/><rect x="224.4" y="35.4" width="0.5" height="0.5" fill="#8a8a8a"/><rect x="224.2" y="33.6" width="0.5" height="0.5" fill="#8a8a8a"/><rect x="225.3" y="32.8" width="0.5" height="0.5" fill="#8a8a8a"/><rect x="223.7" y="19.2" width="0.5" height="0.5" fill="#8a8a8a"/><rect x="224.1" y="25.3" width="0.5" height="0.5" fill="#8a8a8a"/><rect x="223.9" y="28.7" width="0.5" height="0.5" fill="#8a8a8a"/><rect x="225.0" y="27.5" width="0.5" height="0.5" fill="#8a8a8a"/><rect x="221.5" y="24.7" width="0.5" height="0.5" fill="#8a8a8a"/><rect x="226.2" y="35.4" width="0.5" height="0.5" fill="#8a8a8a"/><rect x="222.1" y="18.1" width="0.5" height="0.5" fill="#8a8a8a"/><rect x="221.2" y="20.8" width="0.5" height="0.5" fill="#8a8a8a"/><rect x="221.7" y="24.4" width="0.5" height="0.5" fill="#8a8a8a"/><rect x="223.9" y="33.1" width="0.6" height="0.6" fill="#e07a10"/><rect x="225.4" y="31.9" width="0.6" height="0.6" fill="#e07a10"/><rect x="223.3" y="31.2" width="0.6" height="0.6" fill="#e07a10"/><rect x="225.0" y="29.4" width="0.6" height="0.6" fill="#e07a10"/><rect x="224.6" y="31.2" width="0.6" height="0.6" fill="#d98a1a"/><rect x="223.3" y="28.3" width="0.6" height="0.6" fill="#a07040"/><rect x="222.8" y="28.4" width="0.6" height="0.6" fill="#c88030"/><rect x="223.2" y="28.5" width="0.6" height="0.6" fill="#e07a10"/><rect x="222.6" y="32.0" width="0.6" height="0.6" fill="#a07040"/><rect x="223.1" y="30.3" width="0.6" height="0.6" fill="#d98a1a"/><rect x="222.9" y="28.3" width="0.6" height="0.6" fill="#e07a10"/><rect x="222.6" y="31.5" width="0.6" height="0.6" fill="#a07040"/><rect x="224.4" y="26.2" width="0.6" height="0.6" fill="#a07040"/><rect x="223.9" y="31.1" width="0.6" height="0.6" fill="#a07040"/><rect x="222.6" y="33.8" width="0.6" height="0.6" fill="#d98a1a"/><rect x="224.0" y="30.6" width="0.6" height="0.6" fill="#c88030"/><rect x="223.8" y="27.2" width="0.6" height="0.6" fill="#d98a1a"/><rect x="223.6" y="24.8" width="0.6" height="0.6" fill="#e07a10"/><rect x="223.9" y="30.5" width="0.6" height="0.6" fill="#d98a1a"/><rect x="224.4" y="37.2" width="0.6" height="0.6" fill="#a07040"/><rect x="223.3" y="34.9" width="0.6" height="0.6" fill="#e07a10"/><rect x="223.1" y="26.5" width="0.6" height="0.6" fill="#e07a10"/><rect x="224.3" y="31.3" width="0.6" height="0.6" fill="#c88030"/><rect x="224.5" y="35.0" width="0.6" height="0.6" fill="#c88030"/><rect x="224.3" y="28.7" width="0.6" height="0.6" fill="#c88030"/><rect x="221.8" y="30.2" width="0.6" height="0.6" fill="#e07a10"/><rect x="222.7" y="28.3" width="0.6" height="0.6" fill="#e07a10"/><rect x="223.5" y="30.9" width="0.6" height="0.6" fill="#e07a10"/><rect x="222.7" y="32.4" width="0.6" height="0.6" fill="#c88030"/><rect x="222.9" y="25.3" width="0.6" height="0.6" fill="#e07a10"/><rect x="223.8" y="28.3" width="0.6" height="0.6" fill="#d98a1a"/><rect x="223.1" y="28.4" width="0.6" height="0.6" fill="#a07040"/><rect x="222.6" y="29.1" width="0.6" height="0.6" fill="#d98a1a"/><rect x="223.6" y="33.5" width="0.6" height="0.6" fill="#a07040"/><rect x="223.5" y="27.8" width="0.6" height="0.6" fill="#a07040"/><rect x="224.6" y="30.1" width="0.6" height="0.6" fill="#c88030"/><rect x="223.4" y="31.2" width="0.6" height="0.6" fill="#e07a10"/><rect x="224.2" y="34.1" width="0.6" height="0.6" fill="#d98a1a"/><rect x="223.3" y="33.3" width="0.6" height="0.6" fill="#c88030"/><rect x="222.1" y="24.6" width="0.6" height="0.6" fill="#c88030"/><rect x="223.5" y="26.0" width="0.6" height="0.6" fill="#e07a10"/><rect x="224.3" y="33.2" width="0.6" height="0.6" fill="#a07040"/><rect x="222.9" y="31.5" width="0.6" height="0.6" fill="#d98a1a"/><rect x="224.0" y="31.7" width="0.6" height="0.6" fill="#d98a1a"/><rect x="223.7" y="30.3" width="0.6" height="0.6" fill="#c88030"/><rect x="223.3" y="33.3" width="0.6" height="0.6" fill="#e07a10"/><rect x="223.0" y="31.4" width="0.6" height="0.6" fill="#e07a10"/><rect x="223.9" y="33.8" width="0.6" height="0.6" fill="#a07040"/><rect x="223.7" y="30.7" width="0.6" height="0.6" fill="#e07a10"/><rect x="223.4" y="27.6" width="0.6" height="0.6" fill="#d98a1a"/></g><rect x="173.4" y="20.9" width="35.4" height="23.6" fill="none" stroke="#1a1a1a" stroke-width="0.9"/><text x="200.3" y="6.1" text-anchor="middle" font-family="Liberation Sans, sans-serif" font-size="5.6" fill="#111" stroke="#111" stroke-width="0.12">Control PBMC</text><text x="174.8" y="53.0" font-family="Liberation Sans, sans-serif" font-size="4.9" fill="#000" stroke="#000" stroke-width="0.06">Expanded T-</text><text x="174.8" y="59.0" font-family="Liberation Sans, sans-serif" font-size="4.9" fill="#000" stroke="#000" stroke-width="0.06">cells : 73,4%</text><text transform="translate(153.2,51.6) rotate(-90)" text-anchor="middle" font-family="Liberation Sans, sans-serif" font-size="5.2" fill="#111" stroke="#111" stroke-width="0.04">% CD3</text><text x="199.2" y="102.8" text-anchor="middle" font-family="Liberation Sans, sans-serif" font-size="5.4" fill="#111" stroke="#111" stroke-width="0.06">% CTV</text><rect x="438.6" y="12.4" width="75.9" height="75.0" fill="#fff" stroke="#cfcfcf" stroke-width="0.7"/><g stroke="#bbb" stroke-width="0.5"><line x1="437.4" y1="87.4" x2="438.6" y2="87.4"/><line x1="438.6" y1="87.4" x2="438.6" y2="88.6"/><line x1="437.4" y1="74.9" x2="438.6" y2="74.9"/><line x1="451.2" y1="87.4" x2="451.2" y2="88.6"/><line x1="437.4" y1="62.4" x2="438.6" y2="62.4"/><line x1="463.9" y1="87.4" x2="463.9" y2="88.6"/><line x1="437.4" y1="49.9" x2="438.6" y2="49.9"/><line x1="476.6" y1="87.4" x2="476.6" y2="88.6"/><line x1="437.4" y1="37.4" x2="438.6" y2="37.4"/><line x1="489.2" y1="87.4" x2="489.2" y2="88.6"/><line x1="437.4" y1="24.9" x2="438.6" y2="24.9"/><line x1="501.9" y1="87.4" x2="501.9" y2="88.6"/><line x1="437.4" y1="12.4" x2="438.6" y2="12.4"/><line x1="514.5" y1="87.4" x2="514.5" y2="88.6"/></g><g font-family="Liberation Sans, sans-serif" font-size="3.2" fill="#333"><text x="436.6" y="87.7" text-anchor="end">10<tspan dy="-1.2" font-size="2">0</tspan></text><text x="439.8" y="93.8" text-anchor="end">10<tspan dy="-1.2" font-size="2">0</tspan></text><text x="436.6" y="75.2" text-anchor="end">10<tspan dy="-1.2" font-size="2">1</tspan></text><text x="452.4" y="93.8" text-anchor="end">10<tspan dy="-1.2" font-size="2">1</tspan></text><text x="436.6" y="62.7" text-anchor="end">10<tspan dy="-1.2" font-size="2">2</tspan></text><text x="465.1" y="93.8" text-anchor="end">10<tspan dy="-1.2" font-size="2">2</tspan></text><text x="436.6" y="50.2" text-anchor="end">10<tspan dy="-1.2" font-size="2">3</tspan></text><text x="477.8" y="93.8" text-anchor="end">10<tspan dy="-1.2" font-size="2">3</tspan></text><text x="436.6" y="37.7" text-anchor="end">10<tspan dy="-1.2" font-size="2">4</tspan></text><text x="490.4" y="93.8" text-anchor="end">10<tspan dy="-1.2" font-size="2">4</tspan></text><text x="436.6" y="25.2" text-anchor="end">10<tspan dy="-1.2" font-size="2">5</tspan></text><text x="503.1" y="93.8" text-anchor="end">10<tspan dy="-1.2" font-size="2">5</tspan></text><text x="436.6" y="12.7" text-anchor="end">10<tspan dy="-1.2" font-size="2">6</tspan></text><text x="515.7" y="93.8" text-anchor="end">10<tspan dy="-1.2" font-size="2">6</tspan></text></g><ellipse cx="500.7" cy="27.6" rx="3.6" ry="6.0" fill="#8f8f8f" opacity="0.5" filter="url(#b1)"/><ellipse cx="500.7" cy="27.6" rx="1.9" ry="3.6" fill="#e6841c" opacity="1.0" filter="url(#b2)"/><g opacity="0.75"><rect x="497.6" y="18.0" width="0.5" height="0.5" fill="#8a8a8a"/><rect x="501.2" y="21.4" width="0.5" height="0.5" fill="#8a8a8a"/><rect x="500.7" y="28.5" width="0.5" height="0.5" fill="#8a8a8a"/><rect x="498.8" y="21.3" width="0.5" height="0.5" fill="#8a8a8a"/><rect x="498.7" y="34.9" width="0.5" height="0.5" fill="#8a8a8a"/><rect x="495.4" y="32.7" width="0.5" height="0.5" fill="#8a8a8a"/><rect x="500.5" y="22.9" width="0.5" height="0.5" fill="#8a8a8a"/><rect x="501.3" y="26.5" width="0.5" height="0.5" fill="#8a8a8a"/><rect x="498.3" y="26.3" width="0.5" height="0.5" fill="#8a8a8a"/><rect x="500.8" y="29.8" width="0.5" height="0.5" fill="#8a8a8a"/><rect x="500.8" y="26.6" width="0.5" height="0.5" fill="#8a8a8a"/><rect x="495.3" y="22.9" width="0.5" height="0.5" fill="#8a8a8a"/><rect x="501.7" y="30.8" width="0.5" height="0.5" fill="#8a8a8a"/><rect x="498.5" y="22.9" width="0.5" height="0.5" fill="#8a8a8a"/><rect x="497.9" y="18.7" width="0.5" height="0.5" fill="#8a8a8a"/><rect x="501.6" y="32.4" width="0.5" height="0.5" fill="#8a8a8a"/><rect x="500.5" y="29.5" width="0.5" height="0.5" fill="#8a8a8a"/><rect x="503.9" y="20.6" width="0.5" height="0.5" fill="#8a8a8a"/><rect x="500.6" y="26.9" width="0.5" height="0.5" fill="#8a8a8a"/><rect x="502.9" y="19.0" width="0.5" height="0.5" fill="#8a8a8a"/><rect x="496.8" y="29.8" width="0.5" height="0.5" fill="#8a8a8a"/><rect x="499.1" y="28.9" width="0.5" height="0.5" fill="#8a8a8a"/><rect x="502.1" y="30.4" width="0.5" height="0.5" fill="#8a8a8a"/><rect x="502.8" y="29.0" width="0.5" height="0.5" fill="#8a8a8a"/><rect x="500.7" y="18.0" width="0.5" height="0.5" fill="#8a8a8a"/><rect x="502.8" y="19.5" width="0.5" height="0.5" fill="#8a8a8a"/><rect x="500.4" y="35.5" width="0.5" height="0.5" fill="#8a8a8a"/><rect x="496.8" y="31.9" width="0.5" height="0.5" fill="#8a8a8a"/><rect x="498.8" y="26.9" width="0.5" height="0.5" fill="#8a8a8a"/><rect x="496.8" y="15.0" width="0.5" height="0.5" fill="#8a8a8a"/><rect x="501.7" y="40.2" width="0.5" height="0.5" fill="#8a8a8a"/><rect x="502.6" y="28.1" width="0.5" height="0.5" fill="#8a8a8a"/><rect x="501.0" y="37.9" width="0.5" height="0.5" fill="#8a8a8a"/><rect x="504.4" y="24.1" width="0.5" height="0.5" fill="#8a8a8a"/><rect x="498.4" y="39.0" width="0.5" height="0.5" fill="#8a8a8a"/><rect x="499.9" y="31.7" width="0.5" height="0.5" fill="#8a8a8a"/><rect x="503.5" y="22.8" width="0.5" height="0.5" fill="#8a8a8a"/><rect x="499.5" y="19.0" width="0.5" height="0.5" fill="#8a8a8a"/><rect x="503.4" y="26.7" width="0.5" height="0.5" fill="#8a8a8a"/><rect x="502.7" y="19.4" width="0.5" height="0.5" fill="#8a8a8a"/><rect x="502.3" y="22.4" width="0.5" height="0.5" fill="#8a8a8a"/><rect x="500.2" y="19.6" width="0.5" height="0.5" fill="#8a8a8a"/><rect x="500.1" y="31.6" width="0.5" height="0.5" fill="#8a8a8a"/><rect x="500.0" y="25.9" width="0.5" height="0.5" fill="#8a8a8a"/><rect x="501.8" y="25.7" width="0.5" height="0.5" fill="#8a8a8a"/><rect x="501.8" y="28.1" width="0.5" height="0.5" fill="#8a8a8a"/><rect x="502.7" y="25.1" width="0.5" height="0.5" fill="#8a8a8a"/><rect x="501.1" y="28.8" width="0.5" height="0.5" fill="#8a8a8a"/><rect x="504.3" y="30.1" width="0.5" height="0.5" fill="#8a8a8a"/><rect x="498.2" y="20.4" width="0.5" height="0.5" fill="#8a8a8a"/><rect x="500.6" y="25.3" width="0.5" height="0.5" fill="#8a8a8a"/><rect x="498.8" y="24.4" width="0.5" height="0.5" fill="#8a8a8a"/><rect x="502.5" y="17.1" width="0.5" height="0.5" fill="#8a8a8a"/><rect x="501.4" y="26.1" width="0.5" height="0.5" fill="#8a8a8a"/><rect x="504.3" y="17.4" width="0.5" height="0.5" fill="#8a8a8a"/><rect x="501.8" y="26.6" width="0.5" height="0.5" fill="#8a8a8a"/><rect x="501.0" y="30.5" width="0.5" height="0.5" fill="#8a8a8a"/><rect x="505.2" y="30.2" width="0.5" height="0.5" fill="#8a8a8a"/><rect x="502.0" y="19.4" width="0.5" height="0.5" fill="#8a8a8a"/><rect x="502.2" y="19.7" width="0.5" height="0.5" fill="#8a8a8a"/><rect x="500.4" y="30.4" width="0.5" height="0.5" fill="#8a8a8a"/><rect x="504.0" y="33.7" width="0.5" height="0.5" fill="#8a8a8a"/><rect x="501.3" y="32.9" width="0.5" height="0.5" fill="#8a8a8a"/><rect x="500.3" y="28.2" width="0.5" height="0.5" fill="#8a8a8a"/><rect x="500.6" y="32.7" width="0.5" height="0.5" fill="#8a8a8a"/><rect x="500.2" y="21.8" width="0.5" height="0.5" fill="#8a8a8a"/><rect x="498.0" y="42.1" width="0.5" height="0.5" fill="#8a8a8a"/><rect x="496.0" y="27.3" width="0.5" height="0.5" fill="#8a8a8a"/><rect x="500.3" y="26.5" width="0.5" height="0.5" fill="#8a8a8a"/><rect x="498.5" y="31.1" width="0.5" height="0.5" fill="#8a8a8a"/><rect x="501.0" y="21.9" width="0.5" height="0.5" fill="#8a8a8a"/><rect x="499.9" y="20.2" width="0.5" height="0.5" fill="#8a8a8a"/><rect x="501.7" y="39.8" width="0.5" height="0.5" fill="#8a8a8a"/><rect x="504.4" y="33.8" width="0.5" height="0.5" fill="#8a8a8a"/><rect x="500.8" y="27.9" width="0.5" height="0.5" fill="#8a8a8a"/><rect x="501.9" y="37.7" width="0.5" height="0.5" fill="#8a8a8a"/><rect x="500.9" y="27.5" width="0.5" height="0.5" fill="#8a8a8a"/><rect x="497.9" y="28.0" width="0.5" height="0.5" fill="#8a8a8a"/><rect x="501.1" y="23.8" width="0.5" height="0.5" fill="#8a8a8a"/><rect x="498.5" y="27.8" width="0.5" height="0.5" fill="#8a8a8a"/><rect x="501.6" y="23.4" width="0.5" height="0.5" fill="#8a8a8a"/><rect x="502.5" y="25.8" width="0.5" height="0.5" fill="#8a8a8a"/><rect x="501.5" y="37.0" width="0.5" height="0.5" fill="#8a8a8a"/><rect x="499.5" y="27.6" width="0.5" height="0.5" fill="#8a8a8a"/><rect x="500.1" y="25.7" width="0.5" height="0.5" fill="#8a8a8a"/><rect x="501.6" y="18.2" width="0.5" height="0.5" fill="#8a8a8a"/><rect x="501.5" y="19.1" width="0.5" height="0.5" fill="#8a8a8a"/><rect x="499.2" y="32.6" width="0.5" height="0.5" fill="#8a8a8a"/><rect x="496.7" y="35.7" width="0.5" height="0.5" fill="#8a8a8a"/><rect x="505.0" y="34.3" width="0.5" height="0.5" fill="#8a8a8a"/><rect x="502.3" y="28.3" width="0.5" height="0.5" fill="#8a8a8a"/><rect x="500.3" y="41.0" width="0.5" height="0.5" fill="#8a8a8a"/><rect x="498.4" y="27.6" width="0.5" height="0.5" fill="#8a8a8a"/><rect x="502.0" y="24.6" width="0.5" height="0.5" fill="#8a8a8a"/><rect x="497.8" y="29.5" width="0.5" height="0.5" fill="#8a8a8a"/><rect x="500.8" y="17.2" width="0.5" height="0.5" fill="#8a8a8a"/><rect x="499.4" y="23.0" width="0.5" height="0.5" fill="#8a8a8a"/><rect x="500.1" y="30.8" width="0.5" height="0.5" fill="#8a8a8a"/><rect x="502.7" y="19.9" width="0.5" height="0.5" fill="#8a8a8a"/><rect x="500.6" y="23.8" width="0.5" height="0.5" fill="#8a8a8a"/><rect x="496.9" y="31.6" width="0.5" height="0.5" fill="#8a8a8a"/><rect x="499.6" y="26.1" width="0.5" height="0.5" fill="#8a8a8a"/><rect x="495.8" y="30.7" width="0.5" height="0.5" fill="#8a8a8a"/><rect x="500.8" y="31.7" width="0.5" height="0.5" fill="#8a8a8a"/><rect x="499.5" y="36.8" width="0.5" height="0.5" fill="#8a8a8a"/><rect x="501.5" y="24.6" width="0.5" height="0.5" fill="#8a8a8a"/><rect x="501.7" y="31.5" width="0.5" height="0.5" fill="#8a8a8a"/><rect x="499.4" y="34.3" width="0.5" height="0.5" fill="#8a8a8a"/><rect x="501.8" y="32.3" width="0.5" height="0.5" fill="#8a8a8a"/><rect x="503.1" y="43.3" width="0.5" height="0.5" fill="#8a8a8a"/><rect x="500.6" y="24.7" width="0.5" height="0.5" fill="#8a8a8a"/><rect x="501.8" y="26.9" width="0.5" height="0.5" fill="#8a8a8a"/><rect x="495.6" y="39.5" width="0.5" height="0.5" fill="#8a8a8a"/><rect x="501.8" y="17.9" width="0.5" height="0.5" fill="#8a8a8a"/><rect x="499.2" y="29.2" width="0.5" height="0.5" fill="#8a8a8a"/><rect x="500.0" y="25.3" width="0.5" height="0.5" fill="#8a8a8a"/><rect x="501.3" y="33.6" width="0.5" height="0.5" fill="#8a8a8a"/><rect x="503.1" y="28.9" width="0.5" height="0.5" fill="#8a8a8a"/><rect x="501.6" y="18.3" width="0.5" height="0.5" fill="#8a8a8a"/><rect x="497.3" y="27.6" width="0.5" height="0.5" fill="#8a8a8a"/><rect x="499.4" y="28.4" width="0.5" height="0.5" fill="#8a8a8a"/><rect x="498.8" y="23.7" width="0.5" height="0.5" fill="#8a8a8a"/><rect x="500.4" y="14.0" width="0.5" height="0.5" fill="#8a8a8a"/><rect x="497.9" y="31.1" width="0.5" height="0.5" fill="#8a8a8a"/><rect x="500.7" y="21.1" width="0.5" height="0.5" fill="#8a8a8a"/><rect x="501.2" y="37.5" width="0.5" height="0.5" fill="#8a8a8a"/><rect x="503.7" y="20.2" width="0.5" height="0.5" fill="#8a8a8a"/><rect x="499.3" y="16.0" width="0.5" height="0.5" fill="#8a8a8a"/><rect x="499.2" y="19.5" width="0.5" height="0.5" fill="#8a8a8a"/><rect x="498.7" y="29.1" width="0.5" height="0.5" fill="#8a8a8a"/><rect x="499.9" y="25.6" width="0.5" height="0.5" fill="#8a8a8a"/><rect x="497.0" y="32.9" width="0.5" height="0.5" fill="#8a8a8a"/><rect x="499.9" y="19.0" width="0.5" height="0.5" fill="#8a8a8a"/><rect x="500.7" y="34.2" width="0.5" height="0.5" fill="#8a8a8a"/><rect x="497.5" y="30.0" width="0.5" height="0.5" fill="#8a8a8a"/><rect x="497.7" y="32.6" width="0.5" height="0.5" fill="#8a8a8a"/><rect x="502.1" y="25.9" width="0.5" height="0.5" fill="#8a8a8a"/><rect x="498.3" y="18.7" width="0.5" height="0.5" fill="#8a8a8a"/><rect x="498.6" y="32.3" width="0.5" height="0.5" fill="#8a8a8a"/><rect x="501.4" y="27.3" width="0.5" height="0.5" fill="#8a8a8a"/><rect x="500.1" y="27.2" width="0.6" height="0.6" fill="#e06a20"/><rect x="500.2" y="27.5" width="0.6" height="0.6" fill="#f0a020"/><rect x="500.0" y="28.1" width="0.6" height="0.6" fill="#d98a1a"/><rect x="499.3" y="27.3" width="0.6" height="0.6" fill="#e04a20"/><rect x="499.7" y="27.2" width="0.6" height="0.6" fill="#d98a1a"/><rect x="501.1" y="31.4" width="0.6" height="0.6" fill="#d98a1a"/><rect x="498.4" y="27.1" width="0.6" height="0.6" fill="#f0a020"/><rect x="500.5" y="28.3" width="0.6" height="0.6" fill="#e04a20"/><rect x="500.4" y="28.2" width="0.6" height="0.6" fill="#e8901a"/><rect x="499.8" y="28.9" width="0.6" height="0.6" fill="#e04a20"/><rect x="500.3" y="27.0" width="0.6" height="0.6" fill="#e04a20"/><rect x="500.6" y="21.4" width="0.6" height="0.6" fill="#f0a020"/><rect x="503.9" y="26.1" width="0.6" height="0.6" fill="#d98a1a"/><rect x="500.1" y="28.0" width="0.6" height="0.6" fill="#e8901a"/><rect x="501.2" y="24.2" width="0.6" height="0.6" fill="#d98a1a"/><rect x="499.7" y="24.4" width="0.6" height="0.6" fill="#e06a20"/><rect x="499.8" y="30.6" width="0.6" height="0.6" fill="#d98a1a"/><rect x="499.9" y="28.0" width="0.6" height="0.6" fill="#f0a020"/><rect x="499.7" y="23.9" width="0.6" height="0.6" fill="#d98a1a"/><rect x="499.5" y="31.6" width="0.6" height="0.6" fill="#e04a20"/><rect x="500.3" y="23.8" width="0.6" height="0.6" fill="#d98a1a"/><rect x="500.2" y="24.9" width="0.6" height="0.6" fill="#e04a20"/><rect x="499.8" y="30.6" width="0.6" height="0.6" fill="#e04a20"/><rect x="499.7" y="28.0" width="0.6" height="0.6" fill="#e8901a"/><rect x="500.2" y="25.5" width="0.6" height="0.6" fill="#e04a20"/><rect x="500.9" y="26.9" width="0.6" height="0.6" fill="#f0a020"/><rect x="502.2" y="25.1" width="0.6" height="0.6" fill="#e06a20"/><rect x="499.8" y="27.1" width="0.6" height="0.6" fill="#f0a020"/><rect x="500.9" y="27.6" width="0.6" height="0.6" fill="#e8901a"/><rect x="500.3" y="26.0" width="0.6" height="0.6" fill="#e8901a"/><rect x="499.0" y="25.2" width="0.6" height="0.6" fill="#e06a20"/><rect x="500.9" y="25.2" width="0.6" height="0.6" fill="#e06a20"/><rect x="501.0" y="30.1" width="0.6" height="0.6" fill="#f0a020"/><rect x="501.7" y="32.4" width="0.6" height="0.6" fill="#f0a020"/><rect x="501.1" y="27.4" width="0.6" height="0.6" fill="#f0a020"/><rect x="501.2" y="22.8" width="0.6" height="0.6" fill="#e06a20"/><rect x="500.0" y="27.7" width="0.6" height="0.6" fill="#e8901a"/><rect x="500.6" y="24.8" width="0.6" height="0.6" fill="#e8901a"/><rect x="500.0" y="26.9" width="0.6" height="0.6" fill="#e06a20"/><rect x="501.2" y="25.0" width="0.6" height="0.6" fill="#f0a020"/><rect x="501.7" y="28.6" width="0.6" height="0.6" fill="#e06a20"/><rect x="500.5" y="25.7" width="0.6" height="0.6" fill="#e06a20"/><rect x="498.8" y="26.3" width="0.6" height="0.6" fill="#e8901a"/><rect x="501.2" y="29.5" width="0.6" height="0.6" fill="#f0a020"/><rect x="499.9" y="27.6" width="0.6" height="0.6" fill="#d98a1a"/><rect x="500.0" y="29.5" width="0.6" height="0.6" fill="#e8901a"/><rect x="501.1" y="29.8" width="0.6" height="0.6" fill="#e8901a"/><rect x="501.0" y="27.7" width="0.6" height="0.6" fill="#e04a20"/><rect x="500.9" y="26.5" width="0.6" height="0.6" fill="#d98a1a"/><rect x="498.6" y="28.1" width="0.6" height="0.6" fill="#e8901a"/><rect x="500.9" y="30.2" width="0.6" height="0.6" fill="#e06a20"/><rect x="499.6" y="32.0" width="0.6" height="0.6" fill="#e04a20"/><rect x="499.8" y="31.4" width="0.6" height="0.6" fill="#f0a020"/><rect x="500.8" y="25.8" width="0.6" height="0.6" fill="#d98a1a"/><rect x="500.3" y="29.3" width="0.6" height="0.6" fill="#e8901a"/><rect x="501.1" y="25.7" width="0.6" height="0.6" fill="#d98a1a"/><rect x="499.7" y="29.4" width="0.6" height="0.6" fill="#e04a20"/><rect x="501.3" y="25.9" width="0.6" height="0.6" fill="#e06a20"/><rect x="499.7" y="23.8" width="0.6" height="0.6" fill="#e04a20"/><rect x="501.3" y="31.4" width="0.6" height="0.6" fill="#e06a20"/><rect x="499.5" y="25.7" width="0.6" height="0.6" fill="#e8901a"/><rect x="499.7" y="29.6" width="0.6" height="0.6" fill="#d98a1a"/><rect x="500.4" y="27.4" width="0.6" height="0.6" fill="#e04a20"/><rect x="500.9" y="28.1" width="0.6" height="0.6" fill="#d98a1a"/><rect x="499.6" y="25.2" width="0.6" height="0.6" fill="#f0a020"/><rect x="501.9" y="25.7" width="0.6" height="0.6" fill="#f0a020"/><rect x="501.6" y="30.7" width="0.6" height="0.6" fill="#f0a020"/><rect x="501.0" y="26.8" width="0.6" height="0.6" fill="#e8901a"/><rect x="500.1" y="25.1" width="0.6" height="0.6" fill="#e06a20"/><rect x="501.2" y="28.6" width="0.6" height="0.6" fill="#e8901a"/></g><rect x="450.6" y="19.4" width="35.3" height="24.1" fill="none" stroke="#1a1a1a" stroke-width="0.9"/><text x="478" y="4.6" text-anchor="middle" font-family="Liberation Sans, sans-serif" font-size="5.6" fill="#111" stroke="#111" stroke-width="0.12">IFN 1-30</text><text x="451.6" y="52.3" font-family="Liberation Sans, sans-serif" font-size="4.9" fill="#000" stroke="#000" stroke-width="0.06">Expanded T-</text><text x="451.6" y="58.3" font-family="Liberation Sans, sans-serif" font-size="4.9" fill="#000" stroke="#000" stroke-width="0.06">cells : 4,7%</text><text transform="translate(429.4,51) rotate(-90)" text-anchor="middle" font-family="Liberation Sans, sans-serif" font-size="5.2" fill="#111" stroke="#111" stroke-width="0.04">% CD3</text><text x="476.2" y="102.3" text-anchor="middle" font-family="Liberation Sans, sans-serif" font-size="5.4" fill="#111" stroke="#111" stroke-width="0.06">% CTV</text><ellipse cx="500.3" cy="26.6" rx="0.9" ry="2.1" fill="#e2421c" opacity="0.85" filter="url(#b2)"/><g opacity="0.7"><rect x="471.4" y="40.3" width="0.5" height="0.5" fill="#bbb"/><rect x="452.6" y="37.8" width="0.5" height="0.5" fill="#bbb"/><rect x="492.1" y="33.8" width="0.5" height="0.5" fill="#bbb"/><rect x="484.7" y="34.3" width="0.5" height="0.5" fill="#bbb"/><rect x="491.7" y="31.5" width="0.5" height="0.5" fill="#bbb"/><rect x="452.9" y="32.2" width="0.5" height="0.5" fill="#bbb"/><rect x="478.1" y="21.2" width="0.5" height="0.5" fill="#bbb"/><rect x="474.9" y="25.8" width="0.5" height="0.5" fill="#bbb"/><rect x="476.0" y="34.9" width="0.5" height="0.5" fill="#bbb"/><rect x="471.4" y="23.3" width="0.5" height="0.5" fill="#bbb"/><rect x="484.0" y="29.5" width="0.5" height="0.5" fill="#bbb"/><rect x="483.3" y="32.1" width="0.5" height="0.5" fill="#bbb"/><rect x="479.3" y="38.3" width="0.5" height="0.5" fill="#bbb"/><rect x="459.1" y="30.7" width="0.5" height="0.5" fill="#bbb"/><rect x="487.4" y="29.0" width="0.5" height="0.5" fill="#bbb"/><rect x="473.7" y="30.4" width="0.5" height="0.5" fill="#bbb"/><rect x="493.2" y="27.3" width="0.5" height="0.5" fill="#bbb"/><rect x="452.4" y="27.2" width="0.5" height="0.5" fill="#bbb"/><rect x="482.8" y="40.9" width="0.5" height="0.5" fill="#bbb"/><rect x="462.0" y="30.2" width="0.5" height="0.5" fill="#bbb"/><rect x="457.6" y="27.0" width="0.5" height="0.5" fill="#bbb"/><rect x="478.2" y="31.7" width="0.5" height="0.5" fill="#bbb"/><rect x="472.7" y="30.6" width="0.5" height="0.5" fill="#bbb"/><rect x="468.8" y="19.7" width="0.5" height="0.5" fill="#bbb"/><rect x="486.4" y="30.1" width="0.5" height="0.5" fill="#bbb"/><rect x="486.9" y="28.4" width="0.5" height="0.5" fill="#bbb"/><rect x="465.5" y="25.5" width="0.5" height="0.5" fill="#bbb"/><rect x="482.8" y="28.9" width="0.5" height="0.5" fill="#bbb"/><rect x="492.9" y="32.4" width="0.5" height="0.5" fill="#bbb"/><rect x="453.5" y="30.1" width="0.5" height="0.5" fill="#bbb"/><rect x="454.8" y="36.7" width="0.5" height="0.5" fill="#bbb"/><rect x="480.4" y="25.9" width="0.5" height="0.5" fill="#bbb"/><rect x="469.9" y="28.4" width="0.5" height="0.5" fill="#bbb"/><rect x="496.1" y="37.3" width="0.5" height="0.5" fill="#bbb"/><rect x="490.4" y="27.6" width="0.5" height="0.5" fill="#bbb"/><rect x="495.6" y="28.2" width="0.5" height="0.5" fill="#bbb"/><rect x="485.5" y="28.0" width="0.5" height="0.5" fill="#bbb"/><rect x="496.5" y="31.6" width="0.5" height="0.5" fill="#bbb"/><rect x="457.4" y="33.9" width="0.5" height="0.5" fill="#bbb"/><rect x="488.9" y="30.1" width="0.5" height="0.5" fill="#bbb"/><rect x="473.9" y="32.0" width="0.5" height="0.5" fill="#bbb"/><rect x="464.5" y="25.6" width="0.5" height="0.5" fill="#bbb"/><rect x="486.7" y="29.0" width="0.5" height="0.5" fill="#bbb"/><rect x="480.6" y="34.5" width="0.5" height="0.5" fill="#bbb"/><rect x="481.9" y="33.2" width="0.5" height="0.5" fill="#bbb"/></g><rect x="28.3" y="153.6" width="1.75" height="214.4" fill="#787878"/><rect x="28.3" y="366.9" width="613.9" height="1.15" fill="#3c3c3c"/><text x="120" y="134.3" text-anchor="middle" font-family="Liberation Sans, sans-serif" font-size="10" font-weight="700" fill="#000">NT</text><text x="336.9" y="134.3" text-anchor="middle" font-family="Liberation Sans, sans-serif" font-size="10" font-weight="700" fill="#000">IFN&#947;</text><text x="570.1" y="134.3" text-anchor="middle" font-family="Liberation Sans, sans-serif" font-size="10" font-weight="700" fill="#000">IFN&#947;+TNF&#945;</text><text x="1.6" y="154.9" font-family="Liberation Sans, sans-serif" font-size="11" font-weight="700" fill="#000">B</text><text x="0.6" y="278.6" font-family="Liberation Sans, sans-serif" font-size="11" font-weight="700" fill="#000">C</text><text transform="translate(22.6,262.1) rotate(-90)" text-anchor="middle" font-family="Liberation Sans, sans-serif" font-size="7.7" fill="#000" stroke="#000" stroke-width="0.1">Inhibition of T cells proliferation (%)</text><text x="330.9" y="377.1" text-anchor="middle" font-family="Liberation Sans, sans-serif" font-size="8" fill="#000" stroke="#000" stroke-width="0.1">UC-MSCs/PBMC ratio</text><rect x="49.80" y="168.65" width="4.80" height="65.65" fill="#0000b8" stroke="#000040" stroke-width="0.7"/><path d="M52.20 158.40 V168.30 M50.90 158.40 H53.50" stroke="#6a6a6a" stroke-width="0.6" fill="none"/><path d="M52.20 168.30 V178.20 M50.90 178.20 H53.50" stroke="#00005a" stroke-width="0.5" fill="none" opacity="0.75"/><rect x="58.50" y="181.85" width="4.80" height="52.45" fill="#5c5cf0" stroke="#14145a" stroke-width="0.7"/><path d="M60.90 161.40 V181.50 M59.60 161.40 H62.20" stroke="#6a6a6a" stroke-width="0.6" fill="none"/><path d="M60.90 181.50 V201.60 M59.60 201.60 H62.20" stroke="#3a3a3a" stroke-width="0.5" fill="none" opacity="0.75"/><rect x="67.30" y="193.85" width="4.80" height="40.45" fill="#c2c2fb" stroke="#1e1e46" stroke-width="0.7"/><path d="M69.70 181.50 V193.50 M68.40 181.50 H71.00" stroke="#6a6a6a" stroke-width="0.6" fill="none"/><path d="M69.70 193.50 V205.50 M68.40 205.50 H71.00" stroke="#3a3a3a" stroke-width="0.5" fill="none" opacity="0.75"/><rect x="76.00" y="178.65" width="4.80" height="55.65" fill="#a2a2a8" stroke="#1a1a1a" stroke-width="0.7"/><path d="M78.40 175.50 V178.30 M77.10 175.50 H79.70" stroke="#6a6a6a" stroke-width="0.6" fill="none"/><path d="M78.40 178.30 V181.10 M77.10 181.10 H79.70" stroke="#3a3a3a" stroke-width="0.5" fill="none" opacity="0.75"/><rect x="90.40" y="187.95" width="4.80" height="46.35" fill="#0000b8" stroke="#000040" stroke-width="0.7"/><path d="M92.80 168.30 V187.60 M91.50 168.30 H94.10" stroke="#6a6a6a" stroke-width="0.6" fill="none"/><path d="M92.80 187.60 V206.90 M91.50 206.90 H94.10" stroke="#00005a" stroke-width="0.5" fill="none" opacity="0.75"/><rect x="99.10" y="204.05" width="4.80" height="30.25" fill="#5c5cf0" stroke="#14145a" stroke-width="0.7"/><path d="M101.50 182.40 V203.70 M100.20 182.40 H102.80" stroke="#6a6a6a" stroke-width="0.6" fill="none"/><path d="M101.50 203.70 V225.00 M100.20 225.00 H102.80" stroke="#3a3a3a" stroke-width="0.5" fill="none" opacity="0.75"/><rect x="107.90" y="206.25" width="4.80" height="28.05" fill="#c2c2fb" stroke="#1e1e46" stroke-width="0.7"/><path d="M110.30 194.10 V205.90 M109.00 194.10 H111.60" stroke="#6a6a6a" stroke-width="0.6" fill="none"/><path d="M110.30 205.90 V217.70 M109.00 217.70 H111.60" stroke="#3a3a3a" stroke-width="0.5" fill="none" opacity="0.75"/><rect x="116.60" y="196.05" width="4.80" height="38.25" fill="#a2a2a8" stroke="#1a1a1a" stroke-width="0.7"/><path d="M119.00 183.30 V195.70 M117.70 183.30 H120.30" stroke="#6a6a6a" stroke-width="0.6" fill="none"/><path d="M119.00 195.70 V208.10 M117.70 208.10 H120.30" stroke="#3a3a3a" stroke-width="0.5" fill="none" opacity="0.75"/><rect x="130.80" y="208.65" width="4.80" height="25.65" fill="#0000b8" stroke="#000040" stroke-width="0.7"/><path d="M133.20 183.30 V208.30 M131.90 183.30 H134.50" stroke="#6a6a6a" stroke-width="0.6" fill="none"/><path d="M133.20 208.30 V233.30 M131.90 233.30 H134.50" stroke="#00005a" stroke-width="0.5" fill="none" opacity="0.75"/><rect x="139.50" y="214.65" width="4.80" height="19.65" fill="#5c5cf0" stroke="#14145a" stroke-width="0.7"/><path d="M141.90 196.30 V214.30 M140.60 196.30 H143.20" stroke="#6a6a6a" stroke-width="0.6" fill="none"/><path d="M141.90 214.30 V232.30 M140.60 232.30 H143.20" stroke="#3a3a3a" stroke-width="0.5" fill="none" opacity="0.75"/><rect x="148.30" y="220.35" width="4.80" height="13.95" fill="#c2c2fb" stroke="#1e1e46" stroke-width="0.7"/><path d="M150.70 203.30 V220.00 M149.40 203.30 H152.00" stroke="#6a6a6a" stroke-width="0.6" fill="none"/><path d="M150.70 220.00 V234.00 M149.40 234.00 H152.00" stroke="#3a3a3a" stroke-width="0.5" fill="none" opacity="0.75"/><rect x="157.00" y="210.55" width="4.80" height="23.75" fill="#a2a2a8" stroke="#1a1a1a" stroke-width="0.7"/><path d="M159.40 206.50 V210.20 M158.10 206.50 H160.70" stroke="#6a6a6a" stroke-width="0.6" fill="none"/><path d="M159.40 210.20 V213.90 M158.10 213.90 H160.70" stroke="#3a3a3a" stroke-width="0.5" fill="none" opacity="0.75"/><rect x="171.30" y="232.75" width="4.80" height="1.55" fill="#0000b8" stroke="#000040" stroke-width="0.7"/><path d="M173.70 212.40 V232.40 M172.40 212.40 H175.00" stroke="#6a6a6a" stroke-width="0.6" fill="none"/><path d="M173.70 232.40 V234.00 M172.40 234.00 H175.00" stroke="#00005a" stroke-width="0.5" fill="none" opacity="0.75"/><rect x="180.00" y="229.45" width="4.80" height="4.85" fill="#5c5cf0" stroke="#14145a" stroke-width="0.7"/><path d="M182.40 225.00 V229.10 M181.10 225.00 H183.70" stroke="#6a6a6a" stroke-width="0.6" fill="none"/><path d="M182.40 229.10 V233.20 M181.10 233.20 H183.70" stroke="#3a3a3a" stroke-width="0.5" fill="none" opacity="0.75"/><rect x="188.80" y="227.75" width="4.80" height="6.55" fill="#c2c2fb" stroke="#1e1e46" stroke-width="0.7"/><path d="M191.20 214.30 V227.40 M189.90 214.30 H192.50" stroke="#6a6a6a" stroke-width="0.6" fill="none"/><path d="M191.20 227.40 V234.00 M189.90 234.00 H192.50" stroke="#3a3a3a" stroke-width="0.5" fill="none" opacity="0.75"/><rect x="197.50" y="214.65" width="4.80" height="19.65" fill="#a2a2a8" stroke="#1a1a1a" stroke-width="0.7"/><path d="M199.90 210.20 V214.30 M198.60 210.20 H201.20" stroke="#6a6a6a" stroke-width="0.6" fill="none"/><path d="M199.90 214.30 V218.40 M198.60 218.40 H201.20" stroke="#3a3a3a" stroke-width="0.5" fill="none" opacity="0.75"/><path d="M46.5 153.9 V234.9" stroke="#141414" stroke-width="1.1" fill="none"/><path d="M42.5 234.3 H205.7" stroke="#141414" stroke-width="1.1" fill="none"/><path d="M42.5 194.35 H46.5 M42.5 154.40 H46.5" stroke="#141414" stroke-width="1.1" fill="none"/><path d="M65.3 234.3 V236.9" stroke="#141414" stroke-width="1.1" fill="none"/><path d="M105.9 234.3 V236.9" stroke="#141414" stroke-width="1.1" fill="none"/><path d="M146.3 234.3 V236.9" stroke="#141414" stroke-width="1.1" fill="none"/><path d="M186.8 234.3 V236.9" stroke="#141414" stroke-width="1.1" fill="none"/><text x="41.9" y="236.2" text-anchor="end" font-family="Liberation Sans, sans-serif" font-size="5.3" font-weight="700" fill="#000" stroke="#000" stroke-width="0.1">0</text><text x="41.9" y="196.3" text-anchor="end" font-family="Liberation Sans, sans-serif" font-size="5.3" font-weight="700" fill="#000" stroke="#000" stroke-width="0.1">50</text><text x="41.9" y="156.3" text-anchor="end" font-family="Liberation Sans, sans-serif" font-size="5.3" font-weight="700" fill="#000" stroke="#000" stroke-width="0.1">100</text><text x="65.3" y="243.0" text-anchor="middle" font-family="Liberation Sans, sans-serif" font-size="5.3" font-weight="700" fill="#000" stroke="#000" stroke-width="0.1">1/10</text><text x="105.9" y="243.0" text-anchor="middle" font-family="Liberation Sans, sans-serif" font-size="5.3" font-weight="700" fill="#000" stroke="#000" stroke-width="0.1">1/30</text><text x="146.3" y="243.0" text-anchor="middle" font-family="Liberation Sans, sans-serif" font-size="5.3" font-weight="700" fill="#000" stroke="#000" stroke-width="0.1">1/100</text><text x="186.8" y="243.0" text-anchor="middle" font-family="Liberation Sans, sans-serif" font-size="5.3" font-weight="700" fill="#000" stroke="#000" stroke-width="0.1">1/300</text><path d="M50.3 153.8 H70" stroke="#444" stroke-width="1.5" fill="none"/><path d="M60.10 148.90L60.10 147.25M60.10 148.90L61.67 148.39M60.10 148.90L61.07 150.23M60.10 148.90L59.13 150.23M60.10 148.90L58.53 148.39" stroke="#000" stroke-width="1.0" fill="none"/><circle cx="60.10" cy="148.90" r="0.95" fill="#000"/><path d="M182.8 200.05 H200" stroke="#444" stroke-width="1.5" fill="none"/><path d="M189.10 195.20L189.10 193.55M189.10 195.20L190.67 194.69M189.10 195.20L190.07 196.53M189.10 195.20L188.13 196.53M189.10 195.20L187.53 194.69" stroke="#000" stroke-width="1.0" fill="none"/><circle cx="189.10" cy="195.20" r="0.95" fill="#000"/><path d="M193.70 195.20L193.70 193.55M193.70 195.20L195.27 194.69M193.70 195.20L194.67 196.53M193.70 195.20L192.73 196.53M193.70 195.20L192.13 194.69" stroke="#000" stroke-width="1.0" fill="none"/><circle cx="193.70" cy="195.20" r="0.95" fill="#000"/><rect x="262.60" y="173.45" width="5.20" height="60.45" fill="#0000b8" stroke="#000040" stroke-width="0.7"/><path d="M265.20 166.30 V173.10 M263.90 166.30 H266.50" stroke="#6a6a6a" stroke-width="0.6" fill="none"/><path d="M265.20 173.10 V179.90 M263.90 179.90 H266.50" stroke="#00005a" stroke-width="0.5" fill="none" opacity="0.75"/><rect x="271.75" y="194.75" width="5.20" height="39.15" fill="#5c5cf0" stroke="#14145a" stroke-width="0.7"/><path d="M274.35 183.30 V194.40 M273.05 183.30 H275.65" stroke="#6a6a6a" stroke-width="0.6" fill="none"/><path d="M274.35 194.40 V205.50 M273.05 205.50 H275.65" stroke="#3a3a3a" stroke-width="0.5" fill="none" opacity="0.75"/><rect x="280.85" y="191.65" width="5.20" height="42.25" fill="#c2c2fb" stroke="#1e1e46" stroke-width="0.7"/><path d="M283.45 182.40 V191.30 M282.15 182.40 H284.75" stroke="#6a6a6a" stroke-width="0.6" fill="none"/><path d="M283.45 191.30 V200.20 M282.15 200.20 H284.75" stroke="#3a3a3a" stroke-width="0.5" fill="none" opacity="0.75"/><rect x="290.00" y="166.65" width="5.20" height="67.25" fill="#a2a2a8" stroke="#1a1a1a" stroke-width="0.7"/><path d="M292.60 161.70 V166.30 M291.30 161.70 H293.90" stroke="#6a6a6a" stroke-width="0.6" fill="none"/><path d="M292.60 166.30 V170.90 M291.30 170.90 H293.90" stroke="#3a3a3a" stroke-width="0.5" fill="none" opacity="0.75"/><rect x="305.35" y="191.65" width="5.20" height="42.25" fill="#0000b8" stroke="#000040" stroke-width="0.7"/><path d="M307.95 175.20 V191.30 M306.65 175.20 H309.25" stroke="#6a6a6a" stroke-width="0.6" fill="none"/><path d="M307.95 191.30 V207.40 M306.65 207.40 H309.25" stroke="#00005a" stroke-width="0.5" fill="none" opacity="0.75"/><rect x="314.50" y="208.65" width="5.20" height="25.25" fill="#5c5cf0" stroke="#14145a" stroke-width="0.7"/><path d="M317.10 194.40 V208.30 M315.80 194.40 H318.40" stroke="#6a6a6a" stroke-width="0.6" fill="none"/><path d="M317.10 208.30 V222.20 M315.80 222.20 H318.40" stroke="#3a3a3a" stroke-width="0.5" fill="none" opacity="0.75"/><rect x="323.60" y="203.65" width="5.20" height="30.25" fill="#c2c2fb" stroke="#1e1e46" stroke-width="0.7"/><path d="M326.20 193.10 V203.30 M324.90 193.10 H327.50" stroke="#6a6a6a" stroke-width="0.6" fill="none"/><path d="M326.20 203.30 V213.50 M324.90 213.50 H327.50" stroke="#3a3a3a" stroke-width="0.5" fill="none" opacity="0.75"/><rect x="332.75" y="203.65" width="5.20" height="30.25" fill="#a2a2a8" stroke="#1a1a1a" stroke-width="0.7"/><path d="M335.35 197.20 V203.30 M334.05 197.20 H336.65" stroke="#6a6a6a" stroke-width="0.6" fill="none"/><path d="M335.35 203.30 V209.40 M334.05 209.40 H336.65" stroke="#3a3a3a" stroke-width="0.5" fill="none" opacity="0.75"/><rect x="347.95" y="213.65" width="5.20" height="20.25" fill="#0000b8" stroke="#000040" stroke-width="0.7"/><path d="M350.55 198.10 V213.30 M349.25 198.10 H351.85" stroke="#6a6a6a" stroke-width="0.6" fill="none"/><path d="M350.55 213.30 V228.50 M349.25 228.50 H351.85" stroke="#00005a" stroke-width="0.5" fill="none" opacity="0.75"/><rect x="357.10" y="218.85" width="5.20" height="15.05" fill="#5c5cf0" stroke="#14145a" stroke-width="0.7"/><path d="M359.70 207.00 V218.50 M358.40 207.00 H361.00" stroke="#6a6a6a" stroke-width="0.6" fill="none"/><path d="M359.70 218.50 V230.00 M358.40 230.00 H361.00" stroke="#3a3a3a" stroke-width="0.5" fill="none" opacity="0.75"/><rect x="366.20" y="216.65" width="5.20" height="17.25" fill="#c2c2fb" stroke="#1e1e46" stroke-width="0.7"/><path d="M368.80 201.90 V216.30 M367.50 201.90 H370.10" stroke="#6a6a6a" stroke-width="0.6" fill="none"/><path d="M368.80 216.30 V230.70 M367.50 230.70 H370.10" stroke="#3a3a3a" stroke-width="0.5" fill="none" opacity="0.75"/><rect x="375.35" y="206.45" width="5.20" height="27.45" fill="#a2a2a8" stroke="#1a1a1a" stroke-width="0.7"/><path d="M377.95 199.10 V206.10 M376.65 199.10 H379.25" stroke="#6a6a6a" stroke-width="0.6" fill="none"/><path d="M377.95 206.10 V213.10 M376.65 213.10 H379.25" stroke="#3a3a3a" stroke-width="0.5" fill="none" opacity="0.75"/><rect x="390.55" y="227.75" width="5.20" height="6.15" fill="#0000b8" stroke="#000040" stroke-width="0.7"/><path d="M393.15 209.80 V227.40 M391.85 209.80 H394.45" stroke="#6a6a6a" stroke-width="0.6" fill="none"/><path d="M393.15 227.40 V233.60 M391.85 233.60 H394.45" stroke="#00005a" stroke-width="0.5" fill="none" opacity="0.75"/><rect x="399.70" y="230.55" width="5.20" height="3.35" fill="#5c5cf0" stroke="#14145a" stroke-width="0.7"/><path d="M402.30 226.50 V230.20 M401.00 226.50 H403.60" stroke="#6a6a6a" stroke-width="0.6" fill="none"/><path d="M402.30 230.20 V233.60 M401.00 233.60 H403.60" stroke="#3a3a3a" stroke-width="0.5" fill="none" opacity="0.75"/><rect x="408.80" y="225.75" width="5.20" height="8.15" fill="#c2c2fb" stroke="#1e1e46" stroke-width="0.7"/><path d="M411.40 209.60 V225.40 M410.10 209.60 H412.70" stroke="#6a6a6a" stroke-width="0.6" fill="none"/><path d="M411.40 225.40 V233.60 M410.10 233.60 H412.70" stroke="#3a3a3a" stroke-width="0.5" fill="none" opacity="0.75"/><rect x="417.95" y="214.65" width="5.20" height="19.25" fill="#a2a2a8" stroke="#1a1a1a" stroke-width="0.7"/><path d="M420.55 212.60 V214.30 M419.25 212.60 H421.85" stroke="#6a6a6a" stroke-width="0.6" fill="none"/><path d="M420.55 214.30 V216.00 M419.25 216.00 H421.85" stroke="#3a3a3a" stroke-width="0.5" fill="none" opacity="0.75"/><path d="M259.4 158.8 V234.5" stroke="#141414" stroke-width="1.1" fill="none"/><path d="M255.4 233.9 H427" stroke="#141414" stroke-width="1.1" fill="none"/><path d="M255.4 196.60 H259.4 M255.4 159.30 H259.4" stroke="#141414" stroke-width="1.1" fill="none"/><path d="M278.9 233.9 V236.5" stroke="#141414" stroke-width="1.1" fill="none"/><path d="M321.6 233.9 V236.5" stroke="#141414" stroke-width="1.1" fill="none"/><path d="M364.2 233.9 V236.5" stroke="#141414" stroke-width="1.1" fill="none"/><path d="M406.9 233.9 V236.5" stroke="#141414" stroke-width="1.1" fill="none"/><text x="254.8" y="235.8" text-anchor="end" font-family="Liberation Sans, sans-serif" font-size="5.3" font-weight="700" fill="#000" stroke="#000" stroke-width="0.1">0</text><text x="254.8" y="198.5" text-anchor="end" font-family="Liberation Sans, sans-serif" font-size="5.3" font-weight="700" fill="#000" stroke="#000" stroke-width="0.1">50</text><text x="254.8" y="161.2" text-anchor="end" font-family="Liberation Sans, sans-serif" font-size="5.3" font-weight="700" fill="#000" stroke="#000" stroke-width="0.1">100</text><text x="278.9" y="243.0" text-anchor="middle" font-family="Liberation Sans, sans-serif" font-size="5.3" font-weight="700" fill="#000" stroke="#000" stroke-width="0.1">1/10</text><text x="321.6" y="243.0" text-anchor="middle" font-family="Liberation Sans, sans-serif" font-size="5.3" font-weight="700" fill="#000" stroke="#000" stroke-width="0.1">1/30</text><text x="364.2" y="243.0" text-anchor="middle" font-family="Liberation Sans, sans-serif" font-size="5.3" font-weight="700" fill="#000" stroke="#000" stroke-width="0.1">1/100</text><text x="406.9" y="243.0" text-anchor="middle" font-family="Liberation Sans, sans-serif" font-size="5.3" font-weight="700" fill="#000" stroke="#000" stroke-width="0.1">1/300</text><path d="M274.1 134.4 H292.7" stroke="#222" stroke-width="1.0" fill="none"/><path d="M283.50 131.65L283.50 130.00M283.50 131.65L285.07 131.14M283.50 131.65L284.47 132.98M283.50 131.65L282.53 132.98M283.50 131.65L281.93 131.14" stroke="#000" stroke-width="1.0" fill="none"/><circle cx="283.50" cy="131.65" r="0.95" fill="#000"/><path d="M283.7 144.4 H292.7" stroke="#222" stroke-width="1.0" fill="none"/><path d="M285.80 141.50L285.80 139.85M285.80 141.50L287.37 140.99M285.80 141.50L286.77 142.83M285.80 141.50L284.83 142.83M285.80 141.50L284.23 140.99" stroke="#000" stroke-width="1.0" fill="none"/><circle cx="285.80" cy="141.50" r="0.95" fill="#000"/><path d="M290.40 141.50L290.40 139.85M290.40 141.50L291.97 140.99M290.40 141.50L291.37 142.83M290.40 141.50L289.43 142.83M290.40 141.50L288.83 140.99" stroke="#000" stroke-width="1.0" fill="none"/><circle cx="290.40" cy="141.50" r="0.95" fill="#000"/><path d="M265.1 151.5 H284" stroke="#222" stroke-width="1.0" fill="none"/><path d="M274.60 148.60L274.60 146.95M274.60 148.60L276.17 148.09M274.60 148.60L275.57 149.93M274.60 148.60L273.63 149.93M274.60 148.60L273.03 148.09" stroke="#000" stroke-width="1.0" fill="none"/><circle cx="274.60" cy="148.60" r="0.95" fill="#000"/><path d="M265.1 161.3 H274.2" stroke="#222" stroke-width="1.0" fill="none"/><path d="M270.10 158.30L270.10 156.65M270.10 158.30L271.67 157.79M270.10 158.30L271.07 159.63M270.10 158.30L269.13 159.63M270.10 158.30L268.53 157.79" stroke="#000" stroke-width="1.0" fill="none"/><circle cx="270.10" cy="158.30" r="0.95" fill="#000"/><path d="M402 195.5 H420.4" stroke="#222" stroke-width="1.0" fill="none"/><path d="M406.70 192.10L406.70 190.45M406.70 192.10L408.27 191.59M406.70 192.10L407.67 193.43M406.70 192.10L405.73 193.43M406.70 192.10L405.13 191.59" stroke="#000" stroke-width="1.0" fill="none"/><circle cx="406.70" cy="192.10" r="0.95" fill="#000"/><path d="M411.30 192.10L411.30 190.45M411.30 192.10L412.87 191.59M411.30 192.10L412.27 193.43M411.30 192.10L410.33 193.43M411.30 192.10L409.73 191.59" stroke="#000" stroke-width="1.0" fill="none"/><circle cx="411.30" cy="192.10" r="0.95" fill="#000"/><path d="M415.90 192.10L415.90 190.45M415.90 192.10L417.47 191.59M415.90 192.10L416.87 193.43M415.90 192.10L414.93 193.43M415.90 192.10L414.33 191.59" stroke="#000" stroke-width="1.0" fill="none"/><circle cx="415.90" cy="192.10" r="0.95" fill="#000"/><rect x="479.45" y="169.45" width="4.80" height="47.25" fill="#0000b8" stroke="#000040" stroke-width="0.7"/><path d="M481.85 168.70 V169.10 M480.55 168.70 H483.15" stroke="#6a6a6a" stroke-width="0.6" fill="none"/><rect x="488.50" y="185.35" width="4.80" height="31.35" fill="#5c5cf0" stroke="#14145a" stroke-width="0.7"/><path d="M490.90 175.20 V185.00 M489.60 175.20 H492.20" stroke="#6a6a6a" stroke-width="0.6" fill="none"/><path d="M490.90 185.00 V194.80 M489.60 194.80 H492.20" stroke="#3a3a3a" stroke-width="0.5" fill="none" opacity="0.75"/><rect x="497.50" y="183.85" width="4.80" height="32.85" fill="#c2c2fb" stroke="#1e1e46" stroke-width="0.7"/><path d="M499.90 178.30 V183.50 M498.60 178.30 H501.20" stroke="#6a6a6a" stroke-width="0.6" fill="none"/><path d="M499.90 183.50 V188.70 M498.60 188.70 H501.20" stroke="#3a3a3a" stroke-width="0.5" fill="none" opacity="0.75"/><rect x="506.30" y="167.55" width="4.80" height="49.15" fill="#a2a2a8" stroke="#1a1a1a" stroke-width="0.7"/><path d="M508.70 161.30 V167.20 M507.40 161.30 H510.00" stroke="#6a6a6a" stroke-width="0.6" fill="none"/><path d="M508.70 167.20 V173.10 M507.40 173.10 H510.00" stroke="#3a3a3a" stroke-width="0.5" fill="none" opacity="0.75"/><rect x="521.15" y="186.25" width="4.80" height="30.45" fill="#0000b8" stroke="#000040" stroke-width="0.7"/><path d="M523.55 182.60 V185.90 M522.25 182.60 H524.85" stroke="#6a6a6a" stroke-width="0.6" fill="none"/><path d="M523.55 185.90 V189.20 M522.25 189.20 H524.85" stroke="#00005a" stroke-width="0.5" fill="none" opacity="0.75"/><rect x="530.20" y="197.75" width="4.80" height="18.95" fill="#5c5cf0" stroke="#14145a" stroke-width="0.7"/><path d="M532.60 185.40 V197.40 M531.30 185.40 H533.90" stroke="#6a6a6a" stroke-width="0.6" fill="none"/><path d="M532.60 197.40 V209.40 M531.30 209.40 H533.90" stroke="#3a3a3a" stroke-width="0.5" fill="none" opacity="0.75"/><rect x="539.20" y="194.95" width="4.80" height="21.75" fill="#c2c2fb" stroke="#1e1e46" stroke-width="0.7"/><path d="M541.60 188.10 V194.60 M540.30 188.10 H542.90" stroke="#6a6a6a" stroke-width="0.6" fill="none"/><path d="M541.60 194.60 V201.10 M540.30 201.10 H542.90" stroke="#3a3a3a" stroke-width="0.5" fill="none" opacity="0.75"/><rect x="548.00" y="189.75" width="4.80" height="26.95" fill="#a2a2a8" stroke="#1a1a1a" stroke-width="0.7"/><path d="M550.40 186.30 V189.40 M549.10 186.30 H551.70" stroke="#6a6a6a" stroke-width="0.6" fill="none"/><path d="M550.40 189.40 V192.50 M549.10 192.50 H551.70" stroke="#3a3a3a" stroke-width="0.5" fill="none" opacity="0.75"/><rect x="562.85" y="197.75" width="4.80" height="18.95" fill="#0000b8" stroke="#000040" stroke-width="0.7"/><path d="M565.25 195.20 V197.40 M563.95 195.20 H566.55" stroke="#6a6a6a" stroke-width="0.6" fill="none"/><path d="M565.25 197.40 V199.60 M563.95 199.60 H566.55" stroke="#00005a" stroke-width="0.5" fill="none" opacity="0.75"/><rect x="571.90" y="212.75" width="4.80" height="3.95" fill="#5c5cf0" stroke="#14145a" stroke-width="0.7"/><path d="M574.30 204.40 V212.40 M573.00 204.40 H575.60" stroke="#6a6a6a" stroke-width="0.6" fill="none"/><path d="M574.30 212.40 V219.30 M573.00 219.30 H575.60" stroke="#3a3a3a" stroke-width="0.5" fill="none" opacity="0.75"/><rect x="580.90" y="200.55" width="4.80" height="16.15" fill="#c2c2fb" stroke="#1e1e46" stroke-width="0.7"/><path d="M583.30 194.10 V200.20 M582.00 194.10 H584.60" stroke="#6a6a6a" stroke-width="0.6" fill="none"/><path d="M583.30 200.20 V206.30 M582.00 206.30 H584.60" stroke="#3a3a3a" stroke-width="0.5" fill="none" opacity="0.75"/><rect x="589.70" y="197.75" width="4.80" height="18.95" fill="#a2a2a8" stroke="#1a1a1a" stroke-width="0.7"/><path d="M592.10 192.40 V197.40 M590.80 192.40 H593.40" stroke="#6a6a6a" stroke-width="0.6" fill="none"/><path d="M592.10 197.40 V202.40 M590.80 202.40 H593.40" stroke="#3a3a3a" stroke-width="0.5" fill="none" opacity="0.75"/><rect x="604.05" y="204.75" width="4.80" height="11.95" fill="#0000b8" stroke="#000040" stroke-width="0.7"/><path d="M606.45 200.20 V204.40 M605.15 200.20 H607.75" stroke="#6a6a6a" stroke-width="0.6" fill="none"/><path d="M606.45 204.40 V208.60 M605.15 208.60 H607.75" stroke="#00005a" stroke-width="0.5" fill="none" opacity="0.75"/><rect x="613.10" y="216.70" width="4.80" height="2.35" fill="#5c5cf0" stroke="#14145a" stroke-width="0.7"/><path d="M615.50 210.20 V219.40 M614.20 210.20 H616.80" stroke="#6a6a6a" stroke-width="0.6" fill="none"/><path d="M615.50 219.40 V230.40 M614.20 230.40 H616.80" stroke="#3a3a3a" stroke-width="0.5" fill="none" opacity="0.75"/><rect x="622.10" y="207.95" width="4.80" height="8.75" fill="#c2c2fb" stroke="#1e1e46" stroke-width="0.7"/><path d="M624.50 201.50 V207.60 M623.20 201.50 H625.80" stroke="#6a6a6a" stroke-width="0.6" fill="none"/><path d="M624.50 207.60 V213.70 M623.20 213.70 H625.80" stroke="#3a3a3a" stroke-width="0.5" fill="none" opacity="0.75"/><rect x="630.90" y="203.65" width="4.80" height="13.05" fill="#a2a2a8" stroke="#1a1a1a" stroke-width="0.7"/><path d="M633.30 196.10 V203.30 M632.00 196.10 H634.60" stroke="#6a6a6a" stroke-width="0.6" fill="none"/><path d="M633.30 203.30 V210.50 M632.00 210.50 H634.60" stroke="#3a3a3a" stroke-width="0.5" fill="none" opacity="0.75"/><path d="M475.9 160.2 V233.9" stroke="#141414" stroke-width="1.1" fill="none"/><path d="M471.9 216.7 H639.8" stroke="#141414" stroke-width="1.1" fill="none"/><path d="M475.9 233.3 H639.8" stroke="#141414" stroke-width="1.1" fill="none"/><path d="M471.9 188.70 H475.9 M471.9 160.70 H475.9" stroke="#141414" stroke-width="1.1" fill="none"/><path d="M495.3 233.3 V235.9" stroke="#141414" stroke-width="1.1" fill="none"/><path d="M537.0 233.3 V235.9" stroke="#141414" stroke-width="1.1" fill="none"/><path d="M578.7 233.3 V235.9" stroke="#141414" stroke-width="1.1" fill="none"/><path d="M619.9 233.3 V235.9" stroke="#141414" stroke-width="1.1" fill="none"/><text x="472" y="218.6" text-anchor="end" font-family="Liberation Sans, sans-serif" font-size="5.3" font-weight="700" fill="#000" stroke="#000" stroke-width="0.1">0</text><text x="472" y="190.6" text-anchor="end" font-family="Liberation Sans, sans-serif" font-size="5.3" font-weight="700" fill="#000" stroke="#000" stroke-width="0.1">50</text><text x="472" y="162.6" text-anchor="end" font-family="Liberation Sans, sans-serif" font-size="5.3" font-weight="700" fill="#000" stroke="#000" stroke-width="0.1">100</text><text x="495.3" y="242.5" text-anchor="middle" font-family="Liberation Sans, sans-serif" font-size="5.3" font-weight="700" fill="#000" stroke="#000" stroke-width="0.1">1/10</text><text x="537.0" y="242.5" text-anchor="middle" font-family="Liberation Sans, sans-serif" font-size="5.3" font-weight="700" fill="#000" stroke="#000" stroke-width="0.1">1/30</text><text x="578.7" y="242.5" text-anchor="middle" font-family="Liberation Sans, sans-serif" font-size="5.3" font-weight="700" fill="#000" stroke="#000" stroke-width="0.1">1/100</text><text x="619.9" y="242.5" text-anchor="middle" font-family="Liberation Sans, sans-serif" font-size="5.3" font-weight="700" fill="#000" stroke="#000" stroke-width="0.1">1/300</text><path d="M499.4 154.7 H508.8" stroke="#555" stroke-width="1.3" fill="none"/><path d="M504.00 151.80L504.00 150.15M504.00 151.80L505.57 151.29M504.00 151.80L504.97 153.13M504.00 151.80L503.03 153.13M504.00 151.80L502.43 151.29" stroke="#000" stroke-width="1.0" fill="none"/><circle cx="504.00" cy="151.80" r="0.95" fill="#000"/><path d="M565 180.4 H573.9" stroke="#222" stroke-width="1.0" fill="none"/><path d="M569.50 177.50L569.50 175.85M569.50 177.50L571.07 176.99M569.50 177.50L570.47 178.83M569.50 177.50L568.53 178.83M569.50 177.50L567.93 176.99" stroke="#000" stroke-width="1.0" fill="none"/><circle cx="569.50" cy="177.50" r="0.95" fill="#000"/><path d="M573.9 173.9 H591.8" stroke="#999" stroke-width="1.8" fill="none"/><path d="M582.70 171.20L582.70 169.55M582.70 171.20L584.27 170.69M582.70 171.20L583.67 172.53M582.70 171.20L581.73 172.53M582.70 171.20L581.13 170.69" stroke="#000" stroke-width="1.0" fill="none"/><circle cx="582.70" cy="171.20" r="0.95" fill="#000"/><rect x="51.55" y="303.10" width="9.40" height="50.00" fill="#000" stroke="#000" stroke-width="1.0"/><path d="M56.25 286.50 V302.60 M54.95 286.50 H57.55" stroke="#6a6a6a" stroke-width="0.6" fill="none"/><rect x="67.65" y="301.60" width="9.40" height="51.50" fill="#a2a2a8" stroke="#000" stroke-width="1.0"/><path d="M72.35 298.30 V301.10 M71.05 298.30 H73.65" stroke="#6a6a6a" stroke-width="0.6" fill="none"/><path d="M72.35 301.10 V303.90 M71.05 303.90 H73.65" stroke="#3a3a3a" stroke-width="0.5" fill="none" opacity="0.75"/><rect x="94.40" y="320.50" width="9.40" height="32.60" fill="#000" stroke="#000" stroke-width="1.0"/><path d="M99.10 303.30 V320.00 M97.80 303.30 H100.40" stroke="#6a6a6a" stroke-width="0.6" fill="none"/><rect x="110.50" y="317.70" width="9.40" height="35.40" fill="#a2a2a8" stroke="#000" stroke-width="1.0"/><path d="M115.20 306.50 V317.20 M113.90 306.50 H116.50" stroke="#6a6a6a" stroke-width="0.6" fill="none"/><path d="M115.20 317.20 V327.90 M113.90 327.90 H116.50" stroke="#3a3a3a" stroke-width="0.5" fill="none" opacity="0.75"/><rect x="136.90" y="334.60" width="9.40" height="18.50" fill="#000" stroke="#000" stroke-width="1.0"/><path d="M141.60 316.10 V334.10 M140.30 316.10 H142.90" stroke="#6a6a6a" stroke-width="0.6" fill="none"/><rect x="153.00" y="331.40" width="9.40" height="21.70" fill="#a2a2a8" stroke="#000" stroke-width="1.0"/><path d="M157.70 327.20 V330.90 M156.40 327.20 H159.00" stroke="#6a6a6a" stroke-width="0.6" fill="none"/><path d="M157.70 330.90 V334.60 M156.40 334.60 H159.00" stroke="#3a3a3a" stroke-width="0.5" fill="none" opacity="0.75"/><rect x="179.30" y="348.60" width="9.40" height="4.50" fill="#000" stroke="#000" stroke-width="1.0"/><path d="M184.00 336.50 V348.10 M182.70 336.50 H185.30" stroke="#6a6a6a" stroke-width="0.6" fill="none"/><rect x="195.40" y="335.70" width="9.40" height="17.40" fill="#a2a2a8" stroke="#000" stroke-width="1.0"/><path d="M200.10 330.60 V335.20 M198.80 330.60 H201.40" stroke="#6a6a6a" stroke-width="0.6" fill="none"/><path d="M200.10 335.20 V339.80 M198.80 339.80 H201.40" stroke="#3a3a3a" stroke-width="0.5" fill="none" opacity="0.75"/><path d="M45.7 278.6 V353.7" stroke="#141414" stroke-width="1.1" fill="none"/><path d="M41.7 353.1 H210.7" stroke="#141414" stroke-width="1.1" fill="none"/><path d="M41.7 316.10 H45.7 M41.7 279.10 H45.7" stroke="#141414" stroke-width="1.1" fill="none"/><path d="M64.3 353.1 V355.7" stroke="#141414" stroke-width="1.1" fill="none"/><path d="M107.2 353.1 V355.7" stroke="#141414" stroke-width="1.1" fill="none"/><path d="M149.7 353.1 V355.7" stroke="#141414" stroke-width="1.1" fill="none"/><path d="M192.1 353.1 V355.7" stroke="#141414" stroke-width="1.1" fill="none"/><text x="41.1" y="355.0" text-anchor="end" font-family="Liberation Sans, sans-serif" font-size="5.3" font-weight="700" fill="#000" stroke="#000" stroke-width="0.1">0</text><text x="41.1" y="318.0" text-anchor="end" font-family="Liberation Sans, sans-serif" font-size="5.3" font-weight="700" fill="#000" stroke="#000" stroke-width="0.1">50</text><text x="41.1" y="281.0" text-anchor="end" font-family="Liberation Sans, sans-serif" font-size="5.3" font-weight="700" fill="#000" stroke="#000" stroke-width="0.1">100</text><text x="64.3" y="362.6" text-anchor="middle" font-family="Liberation Sans, sans-serif" font-size="5.3" font-weight="700" fill="#000" stroke="#000" stroke-width="0.1">1/10</text><text x="107.2" y="362.6" text-anchor="middle" font-family="Liberation Sans, sans-serif" font-size="5.3" font-weight="700" fill="#000" stroke="#000" stroke-width="0.1">1/30</text><text x="149.7" y="362.6" text-anchor="middle" font-family="Liberation Sans, sans-serif" font-size="5.3" font-weight="700" fill="#000" stroke="#000" stroke-width="0.1">1/100</text><text x="192.1" y="362.6" text-anchor="middle" font-family="Liberation Sans, sans-serif" font-size="5.3" font-weight="700" fill="#000" stroke="#000" stroke-width="0.1">1/300</text><path d="M184 278.3 H199.9" stroke="#444" stroke-width="1.3" fill="none"/><path d="M189.55 275.00L189.55 273.35M189.55 275.00L191.12 274.49M189.55 275.00L190.52 276.33M189.55 275.00L188.58 276.33M189.55 275.00L187.98 274.49" stroke="#000" stroke-width="1.0" fill="none"/><circle cx="189.55" cy="275.00" r="0.95" fill="#000"/><path d="M194.15 275.00L194.15 273.35M194.15 275.00L195.72 274.49M194.15 275.00L195.12 276.33M194.15 275.00L193.18 276.33M194.15 275.00L192.58 274.49" stroke="#000" stroke-width="1.0" fill="none"/><circle cx="194.15" cy="275.00" r="0.95" fill="#000"/><rect x="265.50" y="305.90" width="9.60" height="47.60" fill="#000" stroke="#000" stroke-width="1.0"/><path d="M270.30 292.80 V305.40 M269.00 292.80 H271.60" stroke="#6a6a6a" stroke-width="0.6" fill="none"/><rect x="281.70" y="285.90" width="9.60" height="67.60" fill="#a2a2a8" stroke="#000" stroke-width="1.0"/><path d="M286.50 281.30 V285.40 M285.20 281.30 H287.80" stroke="#6a6a6a" stroke-width="0.6" fill="none"/><path d="M286.50 285.40 V289.50 M285.20 289.50 H287.80" stroke="#3a3a3a" stroke-width="0.5" fill="none" opacity="0.75"/><rect x="308.55" y="320.50" width="9.60" height="33.00" fill="#000" stroke="#000" stroke-width="1.0"/><path d="M313.35 306.30 V320.00 M312.05 306.30 H314.65" stroke="#6a6a6a" stroke-width="0.6" fill="none"/><rect x="324.75" y="322.90" width="9.60" height="30.60" fill="#a2a2a8" stroke="#000" stroke-width="1.0"/><path d="M329.55 316.30 V322.40 M328.25 316.30 H330.85" stroke="#6a6a6a" stroke-width="0.6" fill="none"/><path d="M329.55 322.40 V328.50 M328.25 328.50 H330.85" stroke="#3a3a3a" stroke-width="0.5" fill="none" opacity="0.75"/><rect x="351.60" y="335.70" width="9.60" height="17.80" fill="#000" stroke="#000" stroke-width="1.0"/><path d="M356.40 322.20 V335.20 M355.10 322.20 H357.70" stroke="#6a6a6a" stroke-width="0.6" fill="none"/><rect x="367.80" y="325.90" width="9.60" height="27.60" fill="#a2a2a8" stroke="#000" stroke-width="1.0"/><path d="M372.60 319.30 V325.40 M371.30 319.30 H373.90" stroke="#6a6a6a" stroke-width="0.6" fill="none"/><path d="M372.60 325.40 V331.50 M371.30 331.50 H373.90" stroke="#3a3a3a" stroke-width="0.5" fill="none" opacity="0.75"/><rect x="394.65" y="347.50" width="9.60" height="6.00" fill="#000" stroke="#000" stroke-width="1.0"/><path d="M399.45 334.30 V347.00 M398.15 334.30 H400.75" stroke="#6a6a6a" stroke-width="0.6" fill="none"/><rect x="410.85" y="333.80" width="9.60" height="19.70" fill="#a2a2a8" stroke="#000" stroke-width="1.0"/><path d="M415.65 331.50 V333.30 M414.35 331.50 H416.95" stroke="#6a6a6a" stroke-width="0.6" fill="none"/><path d="M415.65 333.30 V335.10 M414.35 335.10 H416.95" stroke="#3a3a3a" stroke-width="0.5" fill="none" opacity="0.75"/><path d="M259.4 278.4 V354.1" stroke="#141414" stroke-width="1.1" fill="none"/><path d="M255.4 353.5 H427" stroke="#141414" stroke-width="1.1" fill="none"/><path d="M255.4 316.20 H259.4 M255.4 278.90 H259.4" stroke="#141414" stroke-width="1.1" fill="none"/><path d="M278.4 353.5 V356.1" stroke="#141414" stroke-width="1.1" fill="none"/><path d="M321.4 353.5 V356.1" stroke="#141414" stroke-width="1.1" fill="none"/><path d="M364.5 353.5 V356.1" stroke="#141414" stroke-width="1.1" fill="none"/><path d="M407.6 353.5 V356.1" stroke="#141414" stroke-width="1.1" fill="none"/><text x="254.8" y="355.4" text-anchor="end" font-family="Liberation Sans, sans-serif" font-size="5.3" font-weight="700" fill="#000" stroke="#000" stroke-width="0.1">0</text><text x="254.8" y="318.1" text-anchor="end" font-family="Liberation Sans, sans-serif" font-size="5.3" font-weight="700" fill="#000" stroke="#000" stroke-width="0.1">50</text><text x="254.8" y="280.8" text-anchor="end" font-family="Liberation Sans, sans-serif" font-size="5.3" font-weight="700" fill="#000" stroke="#000" stroke-width="0.1">100</text><text x="278.4" y="362.6" text-anchor="middle" font-family="Liberation Sans, sans-serif" font-size="5.3" font-weight="700" fill="#000" stroke="#000" stroke-width="0.1">1/10</text><text x="321.4" y="362.6" text-anchor="middle" font-family="Liberation Sans, sans-serif" font-size="5.3" font-weight="700" fill="#000" stroke="#000" stroke-width="0.1">1/30</text><text x="364.5" y="362.6" text-anchor="middle" font-family="Liberation Sans, sans-serif" font-size="5.3" font-weight="700" fill="#000" stroke="#000" stroke-width="0.1">1/100</text><text x="407.6" y="362.6" text-anchor="middle" font-family="Liberation Sans, sans-serif" font-size="5.3" font-weight="700" fill="#000" stroke="#000" stroke-width="0.1">1/300</text><path d="M270 272.5 H286.1" stroke="#222" stroke-width="1.0" fill="none"/><path d="M273.60 269.50L273.60 267.85M273.60 269.50L275.17 268.99M273.60 269.50L274.57 270.83M273.60 269.50L272.63 270.83M273.60 269.50L272.03 268.99" stroke="#000" stroke-width="1.0" fill="none"/><circle cx="273.60" cy="269.50" r="0.95" fill="#000"/><path d="M278.20 269.50L278.20 267.85M278.20 269.50L279.77 268.99M278.20 269.50L279.17 270.83M278.20 269.50L277.23 270.83M278.20 269.50L276.63 268.99" stroke="#000" stroke-width="1.0" fill="none"/><circle cx="278.20" cy="269.50" r="0.95" fill="#000"/><path d="M282.80 269.50L282.80 267.85M282.80 269.50L284.37 268.99M282.80 269.50L283.77 270.83M282.80 269.50L281.83 270.83M282.80 269.50L281.23 268.99" stroke="#000" stroke-width="1.0" fill="none"/><circle cx="282.80" cy="269.50" r="0.95" fill="#000"/><path d="M399 272.5 H415.5" stroke="#222" stroke-width="1.0" fill="none"/><path d="M405.00 269.50L405.00 267.85M405.00 269.50L406.57 268.99M405.00 269.50L405.97 270.83M405.00 269.50L404.03 270.83M405.00 269.50L403.43 268.99" stroke="#000" stroke-width="1.0" fill="none"/><circle cx="405.00" cy="269.50" r="0.95" fill="#000"/><path d="M409.60 269.50L409.60 267.85M409.60 269.50L411.17 268.99M409.60 269.50L410.57 270.83M409.60 269.50L408.63 270.83M409.60 269.50L408.03 268.99" stroke="#000" stroke-width="1.0" fill="none"/><circle cx="409.60" cy="269.50" r="0.95" fill="#000"/><rect x="482.80" y="307.20" width="9.40" height="46.90" fill="#000" stroke="#000" stroke-width="1.0"/><path d="M487.50 294.30 V306.70 M486.20 294.30 H488.80" stroke="#6a6a6a" stroke-width="0.6" fill="none"/><rect x="498.90" y="289.60" width="9.40" height="64.50" fill="#a2a2a8" stroke="#000" stroke-width="1.0"/><path d="M503.60 281.30 V289.10 M502.30 281.30 H504.90" stroke="#6a6a6a" stroke-width="0.6" fill="none"/><path d="M503.60 289.10 V296.90 M502.30 296.90 H504.90" stroke="#3a3a3a" stroke-width="0.5" fill="none" opacity="0.75"/><rect x="525.40" y="323.80" width="9.40" height="30.30" fill="#000" stroke="#000" stroke-width="1.0"/><path d="M530.10 310.40 V323.30 M528.80 310.40 H531.40" stroke="#6a6a6a" stroke-width="0.6" fill="none"/><rect x="541.50" y="317.90" width="9.40" height="36.20" fill="#a2a2a8" stroke="#000" stroke-width="1.0"/><path d="M546.20 313.50 V317.40 M544.90 313.50 H547.50" stroke="#6a6a6a" stroke-width="0.6" fill="none"/><path d="M546.20 317.40 V321.30 M544.90 321.30 H547.50" stroke="#3a3a3a" stroke-width="0.5" fill="none" opacity="0.75"/><rect x="568.00" y="338.80" width="9.40" height="15.30" fill="#000" stroke="#000" stroke-width="1.0"/><path d="M572.70 326.30 V338.30 M571.40 326.30 H574.00" stroke="#6a6a6a" stroke-width="0.6" fill="none"/><rect x="584.10" y="329.20" width="9.40" height="24.90" fill="#a2a2a8" stroke="#000" stroke-width="1.0"/><path d="M588.80 322.60 V328.70 M587.50 322.60 H590.10" stroke="#6a6a6a" stroke-width="0.6" fill="none"/><path d="M588.80 328.70 V334.80 M587.50 334.80 H590.10" stroke="#3a3a3a" stroke-width="0.5" fill="none" opacity="0.75"/><rect x="610.60" y="349.40" width="9.40" height="4.70" fill="#000" stroke="#000" stroke-width="1.0"/><path d="M615.30 334.30 V348.90 M614.00 334.30 H616.60" stroke="#6a6a6a" stroke-width="0.6" fill="none"/><rect x="626.70" y="337.00" width="9.40" height="17.10" fill="#a2a2a8" stroke="#000" stroke-width="1.0"/><path d="M631.40 327.20 V336.50 M630.10 327.20 H632.70" stroke="#6a6a6a" stroke-width="0.6" fill="none"/><path d="M631.40 336.50 V345.80 M630.10 345.80 H632.70" stroke="#3a3a3a" stroke-width="0.5" fill="none" opacity="0.75"/><path d="M476.9 280.0 V354.7" stroke="#141414" stroke-width="1.1" fill="none"/><path d="M472.9 354.1 H642" stroke="#141414" stroke-width="1.1" fill="none"/><path d="M472.9 317.30 H476.9 M472.9 280.50 H476.9" stroke="#141414" stroke-width="1.1" fill="none"/><path d="M495.6 354.1 V356.7" stroke="#141414" stroke-width="1.1" fill="none"/><path d="M538.1 354.1 V356.7" stroke="#141414" stroke-width="1.1" fill="none"/><path d="M580.8 354.1 V356.7" stroke="#141414" stroke-width="1.1" fill="none"/><path d="M623.4 354.1 V356.7" stroke="#141414" stroke-width="1.1" fill="none"/><text x="472.6" y="356.0" text-anchor="end" font-family="Liberation Sans, sans-serif" font-size="5.3" font-weight="700" fill="#000" stroke="#000" stroke-width="0.1">0</text><text x="472.6" y="319.2" text-anchor="end" font-family="Liberation Sans, sans-serif" font-size="5.3" font-weight="700" fill="#000" stroke="#000" stroke-width="0.1">50</text><text x="472.6" y="282.4" text-anchor="end" font-family="Liberation Sans, sans-serif" font-size="5.3" font-weight="700" fill="#000" stroke="#000" stroke-width="0.1">100</text><text x="495.6" y="363.0" text-anchor="middle" font-family="Liberation Sans, sans-serif" font-size="5.3" font-weight="700" fill="#000" stroke="#000" stroke-width="0.1">1/10</text><text x="538.1" y="363.0" text-anchor="middle" font-family="Liberation Sans, sans-serif" font-size="5.3" font-weight="700" fill="#000" stroke="#000" stroke-width="0.1">1/30</text><text x="580.8" y="363.0" text-anchor="middle" font-family="Liberation Sans, sans-serif" font-size="5.3" font-weight="700" fill="#000" stroke="#000" stroke-width="0.1">1/100</text><text x="623.4" y="363.0" text-anchor="middle" font-family="Liberation Sans, sans-serif" font-size="5.3" font-weight="700" fill="#000" stroke="#000" stroke-width="0.1">1/300</text><path d="M487 272.5 H503.6" stroke="#222" stroke-width="1.0" fill="none"/><path d="M495.50 269.50L495.50 267.85M495.50 269.50L497.07 268.99M495.50 269.50L496.47 270.83M495.50 269.50L494.53 270.83M495.50 269.50L493.93 268.99" stroke="#000" stroke-width="1.0" fill="none"/><circle cx="495.50" cy="269.50" r="0.95" fill="#000"/><rect x="628.6" y="141.45" width="7.2" height="3.1" fill="#0000b8" stroke="#0a0a14" stroke-width="1.1"/><text x="640.8" y="145.2" font-family="Liberation Sans, sans-serif" font-size="6" fill="#111" stroke="#111" stroke-width="0.12">UC-MSCs<tspan dy="-2.3" font-size="4.2">high</tspan></text><rect x="628.6" y="152.25" width="7.2" height="3.1" fill="#5c5cf0" stroke="#0a0a14" stroke-width="1.1"/><text x="640.8" y="156.0" font-family="Liberation Sans, sans-serif" font-size="6" fill="#111" stroke="#111" stroke-width="0.12">UC-MSCs<tspan dy="-2.3" font-size="4.2">medium</tspan></text><rect x="628.6" y="163.05" width="7.2" height="3.1" fill="#c2c2fb" stroke="#0a0a14" stroke-width="1.1"/><text x="640.8" y="166.8" font-family="Liberation Sans, sans-serif" font-size="6" fill="#111" stroke="#111" stroke-width="0.12">UC-MSCs<tspan dy="-2.3" font-size="4.2">low</tspan></text><rect x="628.6" y="173.85" width="7.2" height="3.1" fill="#a2a2a8" stroke="#0a0a14" stroke-width="1.1"/><text x="640.8" y="177.6" font-family="Liberation Sans, sans-serif" font-size="6" fill="#111" stroke="#111" stroke-width="0.12">UC-MSCs<tspan dy="-2.3" font-size="4.2">pool</tspan></text><rect x="629.0" y="270.3" width="8.2" height="3.4" fill="#000"/><text x="642.1" y="274.1" font-family="Liberation Sans, sans-serif" font-size="5.8" fill="#111" stroke="#111" stroke-width="0.12">Theoretical mean</text><rect x="629.55" y="281.2" width="7.1" height="2.3" fill="#a2a2a8" stroke="#000" stroke-width="1.1"/><text x="642.1" y="284.4" font-family="Liberation Sans, sans-serif" font-size="5.8" fill="#111" stroke="#111" stroke-width="0.12">UC-MSCs<tspan dy="-2.2" font-size="4">pool</tspan></text></svg></body></html>
